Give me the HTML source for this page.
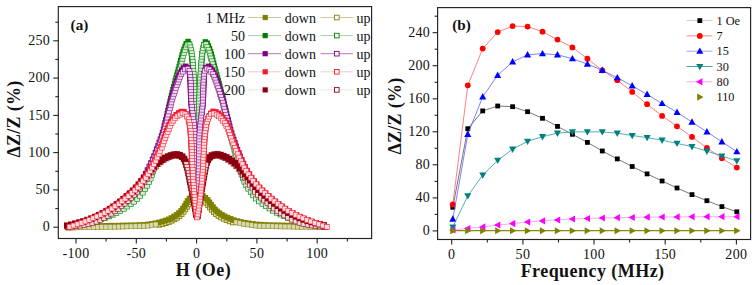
<!DOCTYPE html><html><head><meta charset="utf-8"><style>
html,body{margin:0;padding:0;background:#fff;}
body{width:755px;height:285px;overflow:hidden;}
svg{display:block;}
text{font-family:"Liberation Serif", serif;fill:#111;}
.tk{font-size:14px;letter-spacing:0.35px;}
.lg{font-size:14px;}
.lg2{font-size:12.3px;}
.ti{font-size:18px;font-weight:bold;letter-spacing:0.3px;}
.pl{font-size:15.2px;font-weight:bold;}
</style></head><body>
<svg width="755" height="285" viewBox="0 0 755 285">
<rect width="755" height="285" fill="#fff"/>
<svg x="58.3" y="6.6" width="313.3" height="231.9" viewBox="58.3 6.6 313.3 231.9" overflow="hidden">
<g fill="#e8e8c0" stroke="#808000" stroke-width="0.9"><rect x="156.7" y="222.3" width="4.9" height="4.9"/><rect x="160.1" y="221.5" width="4.9" height="4.9"/><rect x="163.3" y="220.6" width="4.9" height="4.9"/><rect x="166.4" y="219.5" width="4.9" height="4.9"/><rect x="169.2" y="218.2" width="4.9" height="4.9"/><rect x="171.9" y="216.8" width="4.9" height="4.9"/><rect x="174.5" y="215.3" width="4.9" height="4.9"/><rect x="176.9" y="213.5" width="4.9" height="4.9"/><rect x="179.1" y="211.5" width="4.9" height="4.9"/><rect x="181.1" y="209.2" width="4.9" height="4.9"/><rect x="182.8" y="206.8" width="4.9" height="4.9"/><rect x="184.5" y="204.3" width="4.9" height="4.9"/><rect x="186.1" y="201.8" width="4.9" height="4.9"/><rect x="188.0" y="199.5" width="4.9" height="4.9"/><rect x="190.3" y="197.5" width="4.9" height="4.9"/><rect x="193.0" y="196.3" width="4.9" height="4.9"/><rect x="196.0" y="196.1" width="4.9" height="4.9"/><rect x="198.8" y="197.0" width="4.9" height="4.9"/><rect x="201.5" y="198.5" width="4.9" height="4.9"/><rect x="203.8" y="200.4" width="4.9" height="4.9"/><rect x="205.8" y="202.6" width="4.9" height="4.9"/><rect x="207.6" y="205.0" width="4.9" height="4.9"/><rect x="209.5" y="207.3" width="4.9" height="4.9"/><rect x="211.5" y="209.5" width="4.9" height="4.9"/><rect x="213.7" y="211.6" width="4.9" height="4.9"/><rect x="216.1" y="213.4" width="4.9" height="4.9"/><rect x="218.7" y="214.9" width="4.9" height="4.9"/><rect x="221.4" y="216.3" width="4.9" height="4.9"/><rect x="224.2" y="217.6" width="4.9" height="4.9"/><rect x="227.3" y="218.8" width="4.9" height="4.9"/><rect x="230.5" y="219.9" width="4.9" height="4.9"/></g>
<g fill="#808000"><rect x="321.3" y="223.2" width="5.6" height="5.6"/><rect x="317.1" y="223.2" width="5.6" height="5.6"/><rect x="312.9" y="223.1" width="5.6" height="5.6"/><rect x="308.7" y="223.0" width="5.6" height="5.6"/><rect x="304.5" y="223.0" width="5.6" height="5.6"/><rect x="300.3" y="222.9" width="5.6" height="5.6"/><rect x="296.1" y="222.9" width="5.6" height="5.6"/><rect x="291.9" y="222.8" width="5.6" height="5.6"/><rect x="287.7" y="222.8" width="5.6" height="5.6"/><rect x="283.5" y="222.7" width="5.6" height="5.6"/><rect x="279.3" y="222.6" width="5.6" height="5.6"/><rect x="275.1" y="222.5" width="5.6" height="5.6"/><rect x="270.9" y="222.4" width="5.6" height="5.6"/><rect x="266.7" y="222.3" width="5.6" height="5.6"/><rect x="262.5" y="222.1" width="5.6" height="5.6"/><rect x="258.3" y="221.9" width="5.6" height="5.6"/><rect x="254.1" y="221.6" width="5.6" height="5.6"/><rect x="250.0" y="221.1" width="5.6" height="5.6"/><rect x="245.9" y="220.5" width="5.6" height="5.6"/><rect x="241.9" y="219.9" width="5.6" height="5.6"/><rect x="238.1" y="219.1" width="5.6" height="5.6"/><rect x="234.5" y="218.3" width="5.6" height="5.6"/><rect x="231.1" y="217.3" width="5.6" height="5.6"/><rect x="227.9" y="216.1" width="5.6" height="5.6"/><rect x="224.8" y="214.9" width="5.6" height="5.6"/><rect x="221.9" y="213.5" width="5.6" height="5.6"/><rect x="219.2" y="212.1" width="5.6" height="5.6"/><rect x="216.7" y="210.4" width="5.6" height="5.6"/><rect x="214.3" y="208.6" width="5.6" height="5.6"/><rect x="212.2" y="206.6" width="5.6" height="5.6"/><rect x="210.2" y="204.3" width="5.6" height="5.6"/><rect x="208.3" y="201.9" width="5.6" height="5.6"/><rect x="206.6" y="199.5" width="5.6" height="5.6"/><rect x="204.8" y="197.1" width="5.6" height="5.6"/><rect x="202.6" y="195.0" width="5.6" height="5.6"/><rect x="200.2" y="193.3" width="5.6" height="5.6"/><rect x="197.4" y="192.2" width="5.6" height="5.6"/><rect x="194.4" y="191.8" width="5.6" height="5.6"/><rect x="191.5" y="192.3" width="5.6" height="5.6"/><rect x="188.8" y="193.7" width="5.6" height="5.6"/><rect x="186.7" y="195.7" width="5.6" height="5.6"/><rect x="184.8" y="198.1" width="5.6" height="5.6"/><rect x="183.3" y="200.7" width="5.6" height="5.6"/><rect x="181.8" y="203.3" width="5.6" height="5.6"/><rect x="180.1" y="205.8" width="5.6" height="5.6"/><rect x="178.3" y="208.1" width="5.6" height="5.6"/><rect x="176.1" y="210.2" width="5.6" height="5.6"/><rect x="173.8" y="212.1" width="5.6" height="5.6"/><rect x="171.2" y="213.7" width="5.6" height="5.6"/><rect x="168.6" y="215.2" width="5.6" height="5.6"/><rect x="165.8" y="216.6" width="5.6" height="5.6"/><rect x="162.8" y="217.7" width="5.6" height="5.6"/><rect x="159.6" y="218.7" width="5.6" height="5.6"/><rect x="156.3" y="219.6" width="5.6" height="5.6"/><rect x="152.8" y="220.4" width="5.6" height="5.6"/><rect x="149.1" y="221.0" width="5.6" height="5.6"/><rect x="145.2" y="221.6" width="5.6" height="5.6"/><rect x="141.1" y="222.0" width="5.6" height="5.6"/><rect x="136.9" y="222.2" width="5.6" height="5.6"/><rect x="132.7" y="222.4" width="5.6" height="5.6"/><rect x="128.6" y="222.5" width="5.6" height="5.6"/><rect x="124.4" y="222.6" width="5.6" height="5.6"/><rect x="120.2" y="222.7" width="5.6" height="5.6"/><rect x="116.0" y="222.8" width="5.6" height="5.6"/><rect x="111.8" y="222.9" width="5.6" height="5.6"/><rect x="107.6" y="222.9" width="5.6" height="5.6"/><rect x="103.4" y="223.0" width="5.6" height="5.6"/><rect x="99.2" y="223.1" width="5.6" height="5.6"/><rect x="95.0" y="223.1" width="5.6" height="5.6"/><rect x="90.8" y="223.2" width="5.6" height="5.6"/><rect x="86.6" y="223.3" width="5.6" height="5.6"/><rect x="82.4" y="223.4" width="5.6" height="5.6"/><rect x="78.2" y="223.5" width="5.6" height="5.6"/><rect x="74.0" y="223.7" width="5.6" height="5.6"/><rect x="69.8" y="223.9" width="5.6" height="5.6"/><rect x="65.6" y="224.2" width="5.6" height="5.6"/></g>
<g fill="#d9d9b2" stroke="#808000" stroke-width="0.55"><rect x="66.0" y="225.5" width="4.9" height="4.9"/><rect x="70.2" y="225.2" width="4.9" height="4.9"/><rect x="74.4" y="225.0" width="4.9" height="4.9"/><rect x="78.6" y="224.8" width="4.9" height="4.9"/><rect x="82.8" y="224.7" width="4.9" height="4.9"/><rect x="87.0" y="224.7" width="4.9" height="4.9"/><rect x="91.2" y="224.6" width="4.9" height="4.9"/><rect x="95.4" y="224.5" width="4.9" height="4.9"/><rect x="99.6" y="224.4" width="4.9" height="4.9"/><rect x="103.8" y="224.4" width="4.9" height="4.9"/><rect x="108.0" y="224.3" width="4.9" height="4.9"/><rect x="112.2" y="224.3" width="4.9" height="4.9"/><rect x="116.4" y="224.2" width="4.9" height="4.9"/><rect x="120.6" y="224.1" width="4.9" height="4.9"/><rect x="124.8" y="224.0" width="4.9" height="4.9"/><rect x="129.0" y="223.9" width="4.9" height="4.9"/><rect x="133.1" y="223.8" width="4.9" height="4.9"/><rect x="137.3" y="223.6" width="4.9" height="4.9"/><rect x="141.5" y="223.4" width="4.9" height="4.9"/><rect x="145.6" y="223.2" width="4.9" height="4.9"/><rect x="149.5" y="222.6" width="4.9" height="4.9"/><rect x="153.2" y="222.0" width="4.9" height="4.9"/><rect x="233.9" y="219.9" width="4.9" height="4.9"/><rect x="237.5" y="220.7" width="4.9" height="4.9"/><rect x="241.3" y="221.4" width="4.9" height="4.9"/><rect x="245.2" y="222.0" width="4.9" height="4.9"/><rect x="249.3" y="222.6" width="4.9" height="4.9"/><rect x="253.4" y="223.1" width="4.9" height="4.9"/><rect x="257.6" y="223.4" width="4.9" height="4.9"/><rect x="261.8" y="223.5" width="4.9" height="4.9"/><rect x="266.0" y="223.7" width="4.9" height="4.9"/><rect x="270.2" y="223.8" width="4.9" height="4.9"/><rect x="274.4" y="223.9" width="4.9" height="4.9"/><rect x="278.6" y="224.0" width="4.9" height="4.9"/><rect x="282.8" y="224.1" width="4.9" height="4.9"/><rect x="287.0" y="224.1" width="4.9" height="4.9"/><rect x="291.2" y="224.2" width="4.9" height="4.9"/><rect x="295.4" y="224.3" width="4.9" height="4.9"/><rect x="299.6" y="224.3" width="4.9" height="4.9"/><rect x="303.8" y="224.3" width="4.9" height="4.9"/><rect x="308.0" y="224.4" width="4.9" height="4.9"/><rect x="312.2" y="224.5" width="4.9" height="4.9"/><rect x="316.4" y="224.5" width="4.9" height="4.9"/><rect x="320.6" y="224.6" width="4.9" height="4.9"/></g>
<g fill="#008000"><rect x="322.1" y="224.1" width="5.4" height="5.4"/><rect x="318.0" y="223.2" width="5.4" height="5.4"/><rect x="313.9" y="222.4" width="5.4" height="5.4"/><rect x="309.8" y="221.5" width="5.4" height="5.4"/><rect x="305.7" y="220.6" width="5.4" height="5.4"/><rect x="301.6" y="219.6" width="5.4" height="5.4"/><rect x="297.6" y="218.5" width="5.4" height="5.4"/><rect x="293.5" y="217.4" width="5.4" height="5.4"/><rect x="289.5" y="216.1" width="5.4" height="5.4"/><rect x="285.5" y="214.7" width="5.4" height="5.4"/><rect x="281.6" y="213.2" width="5.4" height="5.4"/><rect x="277.8" y="211.4" width="5.4" height="5.4"/><rect x="274.1" y="209.6" width="5.4" height="5.4"/><rect x="270.4" y="207.6" width="5.4" height="5.4"/><rect x="266.8" y="205.3" width="5.4" height="5.4"/><rect x="263.3" y="203.0" width="5.4" height="5.4"/><rect x="259.9" y="200.6" width="5.4" height="5.4"/><rect x="256.5" y="198.1" width="5.4" height="5.4"/><rect x="253.5" y="195.2" width="5.4" height="5.4"/><rect x="250.6" y="192.1" width="5.4" height="5.4"/><rect x="248.1" y="188.8" width="5.4" height="5.4"/><rect x="245.8" y="185.3" width="5.4" height="5.4"/><rect x="243.7" y="181.8" width="5.4" height="5.4"/><rect x="241.9" y="178.3" width="5.4" height="5.4"/><rect x="240.4" y="174.7" width="5.4" height="5.4"/><rect x="239.1" y="171.1" width="5.4" height="5.4"/><rect x="238.0" y="167.5" width="5.4" height="5.4"/><rect x="236.9" y="163.9" width="5.4" height="5.4"/><rect x="235.9" y="160.3" width="5.4" height="5.4"/><rect x="234.9" y="156.8" width="5.4" height="5.4"/><rect x="233.9" y="153.3" width="5.4" height="5.4"/><rect x="233.0" y="149.8" width="5.4" height="5.4"/><rect x="232.1" y="146.4" width="5.4" height="5.4"/><rect x="231.2" y="143.0" width="5.4" height="5.4"/><rect x="230.3" y="139.6" width="5.4" height="5.4"/><rect x="229.4" y="136.3" width="5.4" height="5.4"/><rect x="228.6" y="133.0" width="5.4" height="5.4"/><rect x="227.8" y="129.7" width="5.4" height="5.4"/><rect x="227.1" y="126.4" width="5.4" height="5.4"/><rect x="226.3" y="123.2" width="5.4" height="5.4"/><rect x="225.6" y="120.0" width="5.4" height="5.4"/><rect x="224.9" y="116.8" width="5.4" height="5.4"/><rect x="224.2" y="113.6" width="5.4" height="5.4"/><rect x="223.5" y="110.5" width="5.4" height="5.4"/><rect x="222.8" y="107.4" width="5.4" height="5.4"/><rect x="222.2" y="104.3" width="5.4" height="5.4"/><rect x="221.5" y="101.3" width="5.4" height="5.4"/><rect x="220.8" y="98.3" width="5.4" height="5.4"/><rect x="220.1" y="95.3" width="5.4" height="5.4"/><rect x="219.4" y="92.3" width="5.4" height="5.4"/><rect x="218.6" y="89.4" width="5.4" height="5.4"/><rect x="217.9" y="86.5" width="5.4" height="5.4"/><rect x="217.1" y="83.6" width="5.4" height="5.4"/><rect x="216.4" y="80.7" width="5.4" height="5.4"/><rect x="215.6" y="77.8" width="5.4" height="5.4"/><rect x="214.8" y="74.9" width="5.4" height="5.4"/><rect x="214.0" y="72.0" width="5.4" height="5.4"/><rect x="213.2" y="69.1" width="5.4" height="5.4"/><rect x="212.4" y="66.2" width="5.4" height="5.4"/><rect x="211.6" y="63.3" width="5.4" height="5.4"/><rect x="210.9" y="60.4" width="5.4" height="5.4"/><rect x="210.1" y="57.5" width="5.4" height="5.4"/><rect x="209.4" y="54.6" width="5.4" height="5.4"/><rect x="208.6" y="51.7" width="5.4" height="5.4"/><rect x="207.8" y="48.9" width="5.4" height="5.4"/><rect x="206.8" y="46.0" width="5.4" height="5.4"/><rect x="205.7" y="43.2" width="5.4" height="5.4"/><rect x="204.5" y="40.5" width="5.4" height="5.4"/><rect x="202.6" y="39.2" width="5.4" height="5.4"/><rect x="201.5" y="42.0" width="5.4" height="5.4"/><rect x="200.8" y="44.9" width="5.4" height="5.4"/><rect x="200.2" y="47.8" width="5.4" height="5.4"/><rect x="199.8" y="50.8" width="5.4" height="5.4"/><rect x="199.5" y="53.8" width="5.4" height="5.4"/><rect x="199.2" y="56.8" width="5.4" height="5.4"/><rect x="199.0" y="59.7" width="5.4" height="5.4"/><rect x="198.7" y="62.7" width="5.4" height="5.4"/><rect x="198.5" y="65.7" width="5.4" height="5.4"/><rect x="198.3" y="68.7" width="5.4" height="5.4"/><rect x="198.1" y="71.7" width="5.4" height="5.4"/><rect x="197.9" y="74.7" width="5.4" height="5.4"/><rect x="197.8" y="77.7" width="5.4" height="5.4"/><rect x="197.6" y="80.7" width="5.4" height="5.4"/><rect x="197.5" y="83.7" width="5.4" height="5.4"/><rect x="197.3" y="86.7" width="5.4" height="5.4"/><rect x="197.2" y="89.7" width="5.4" height="5.4"/><rect x="197.1" y="92.7" width="5.4" height="5.4"/><rect x="197.0" y="95.7" width="5.4" height="5.4"/><rect x="196.8" y="98.7" width="5.4" height="5.4"/><rect x="196.7" y="101.7" width="5.4" height="5.4"/><rect x="196.6" y="104.7" width="5.4" height="5.4"/><rect x="196.5" y="107.7" width="5.4" height="5.4"/><rect x="196.5" y="110.7" width="5.4" height="5.4"/><rect x="196.4" y="113.7" width="5.4" height="5.4"/><rect x="196.3" y="116.7" width="5.4" height="5.4"/><rect x="196.3" y="119.7" width="5.4" height="5.4"/><rect x="196.2" y="122.7" width="5.4" height="5.4"/><rect x="196.1" y="125.7" width="5.4" height="5.4"/><rect x="196.1" y="128.7" width="5.4" height="5.4"/><rect x="196.0" y="131.7" width="5.4" height="5.4"/><rect x="196.0" y="134.7" width="5.4" height="5.4"/><rect x="195.9" y="137.7" width="5.4" height="5.4"/><rect x="195.9" y="140.7" width="5.4" height="5.4"/><rect x="195.8" y="143.7" width="5.4" height="5.4"/><rect x="195.7" y="146.7" width="5.4" height="5.4"/><rect x="195.7" y="149.7" width="5.4" height="5.4"/><rect x="195.6" y="152.7" width="5.4" height="5.4"/><rect x="195.6" y="155.7" width="5.4" height="5.4"/><rect x="195.5" y="158.7" width="5.4" height="5.4"/><rect x="195.5" y="161.7" width="5.4" height="5.4"/><rect x="195.4" y="164.7" width="5.4" height="5.4"/><rect x="195.4" y="167.7" width="5.4" height="5.4"/><rect x="195.3" y="170.7" width="5.4" height="5.4"/><rect x="195.3" y="173.7" width="5.4" height="5.4"/><rect x="195.2" y="176.7" width="5.4" height="5.4"/><rect x="195.2" y="179.7" width="5.4" height="5.4"/><rect x="195.1" y="182.7" width="5.4" height="5.4"/><rect x="195.1" y="185.7" width="5.4" height="5.4"/><rect x="195.0" y="188.7" width="5.4" height="5.4"/><rect x="195.0" y="191.7" width="5.4" height="5.4"/><rect x="194.9" y="194.7" width="5.4" height="5.4"/><rect x="194.9" y="197.7" width="5.4" height="5.4"/><rect x="194.8" y="200.7" width="5.4" height="5.4"/><rect x="194.7" y="203.7" width="5.4" height="5.4"/><rect x="194.7" y="206.7" width="5.4" height="5.4"/><rect x="194.2" y="209.0" width="5.4" height="5.4"/><rect x="194.1" y="206.0" width="5.4" height="5.4"/><rect x="194.0" y="203.0" width="5.4" height="5.4"/><rect x="193.9" y="200.0" width="5.4" height="5.4"/><rect x="193.9" y="197.0" width="5.4" height="5.4"/><rect x="193.8" y="194.0" width="5.4" height="5.4"/><rect x="193.7" y="191.0" width="5.4" height="5.4"/><rect x="193.7" y="188.0" width="5.4" height="5.4"/><rect x="193.6" y="185.0" width="5.4" height="5.4"/><rect x="193.6" y="182.0" width="5.4" height="5.4"/><rect x="193.5" y="179.0" width="5.4" height="5.4"/><rect x="193.5" y="176.0" width="5.4" height="5.4"/><rect x="193.4" y="173.0" width="5.4" height="5.4"/><rect x="193.4" y="170.0" width="5.4" height="5.4"/><rect x="193.3" y="167.0" width="5.4" height="5.4"/><rect x="193.3" y="164.0" width="5.4" height="5.4"/><rect x="193.2" y="161.0" width="5.4" height="5.4"/><rect x="193.2" y="158.0" width="5.4" height="5.4"/><rect x="193.1" y="155.0" width="5.4" height="5.4"/><rect x="193.1" y="152.0" width="5.4" height="5.4"/><rect x="193.0" y="149.0" width="5.4" height="5.4"/><rect x="193.0" y="146.0" width="5.4" height="5.4"/><rect x="192.9" y="143.0" width="5.4" height="5.4"/><rect x="192.8" y="140.1" width="5.4" height="5.4"/><rect x="192.8" y="137.1" width="5.4" height="5.4"/><rect x="192.7" y="134.1" width="5.4" height="5.4"/><rect x="192.7" y="131.1" width="5.4" height="5.4"/><rect x="192.6" y="128.1" width="5.4" height="5.4"/><rect x="192.5" y="125.1" width="5.4" height="5.4"/><rect x="192.5" y="122.1" width="5.4" height="5.4"/><rect x="192.4" y="119.1" width="5.4" height="5.4"/><rect x="192.3" y="116.1" width="5.4" height="5.4"/><rect x="192.3" y="113.1" width="5.4" height="5.4"/><rect x="192.2" y="110.1" width="5.4" height="5.4"/><rect x="192.1" y="107.1" width="5.4" height="5.4"/><rect x="192.0" y="104.1" width="5.4" height="5.4"/><rect x="191.9" y="101.1" width="5.4" height="5.4"/><rect x="191.8" y="98.1" width="5.4" height="5.4"/><rect x="191.7" y="95.1" width="5.4" height="5.4"/><rect x="191.5" y="92.1" width="5.4" height="5.4"/><rect x="191.4" y="89.1" width="5.4" height="5.4"/><rect x="191.3" y="86.1" width="5.4" height="5.4"/><rect x="191.1" y="83.1" width="5.4" height="5.4"/><rect x="191.0" y="80.1" width="5.4" height="5.4"/><rect x="190.8" y="77.1" width="5.4" height="5.4"/><rect x="190.6" y="74.1" width="5.4" height="5.4"/><rect x="190.4" y="71.1" width="5.4" height="5.4"/><rect x="190.2" y="68.1" width="5.4" height="5.4"/><rect x="190.0" y="65.1" width="5.4" height="5.4"/><rect x="189.8" y="62.1" width="5.4" height="5.4"/><rect x="189.5" y="59.1" width="5.4" height="5.4"/><rect x="189.2" y="56.1" width="5.4" height="5.4"/><rect x="188.9" y="53.2" width="5.4" height="5.4"/><rect x="188.6" y="50.2" width="5.4" height="5.4"/><rect x="188.2" y="47.2" width="5.4" height="5.4"/><rect x="187.5" y="44.3" width="5.4" height="5.4"/><rect x="186.7" y="41.4" width="5.4" height="5.4"/><rect x="185.4" y="38.8" width="5.4" height="5.4"/><rect x="183.5" y="40.9" width="5.4" height="5.4"/><rect x="182.4" y="43.7" width="5.4" height="5.4"/><rect x="181.3" y="46.5" width="5.4" height="5.4"/><rect x="180.4" y="49.3" width="5.4" height="5.4"/><rect x="179.5" y="52.2" width="5.4" height="5.4"/><rect x="178.8" y="55.1" width="5.4" height="5.4"/><rect x="178.0" y="58.0" width="5.4" height="5.4"/><rect x="177.3" y="60.9" width="5.4" height="5.4"/><rect x="176.5" y="63.8" width="5.4" height="5.4"/><rect x="175.7" y="66.7" width="5.4" height="5.4"/><rect x="174.9" y="69.6" width="5.4" height="5.4"/><rect x="174.1" y="72.5" width="5.4" height="5.4"/><rect x="173.3" y="75.4" width="5.4" height="5.4"/><rect x="172.5" y="78.3" width="5.4" height="5.4"/><rect x="171.8" y="81.2" width="5.4" height="5.4"/><rect x="171.0" y="84.1" width="5.4" height="5.4"/><rect x="170.2" y="87.0" width="5.4" height="5.4"/><rect x="169.5" y="89.9" width="5.4" height="5.4"/><rect x="168.8" y="92.8" width="5.4" height="5.4"/><rect x="168.1" y="95.8" width="5.4" height="5.4"/><rect x="167.4" y="98.8" width="5.4" height="5.4"/><rect x="166.7" y="101.8" width="5.4" height="5.4"/><rect x="166.0" y="104.8" width="5.4" height="5.4"/><rect x="165.3" y="107.9" width="5.4" height="5.4"/><rect x="164.6" y="111.0" width="5.4" height="5.4"/><rect x="163.9" y="114.2" width="5.4" height="5.4"/><rect x="163.2" y="117.3" width="5.4" height="5.4"/><rect x="162.5" y="120.5" width="5.4" height="5.4"/><rect x="161.8" y="123.7" width="5.4" height="5.4"/><rect x="161.1" y="127.0" width="5.4" height="5.4"/><rect x="160.3" y="130.2" width="5.4" height="5.4"/><rect x="159.5" y="133.5" width="5.4" height="5.4"/><rect x="158.7" y="136.8" width="5.4" height="5.4"/><rect x="157.9" y="140.2" width="5.4" height="5.4"/><rect x="156.9" y="143.5" width="5.4" height="5.4"/><rect x="156.0" y="146.9" width="5.4" height="5.4"/><rect x="155.1" y="150.4" width="5.4" height="5.4"/><rect x="154.2" y="153.9" width="5.4" height="5.4"/><rect x="153.2" y="157.4" width="5.4" height="5.4"/><rect x="152.2" y="160.9" width="5.4" height="5.4"/><rect x="151.2" y="164.5" width="5.4" height="5.4"/><rect x="150.1" y="168.1" width="5.4" height="5.4"/><rect x="148.9" y="171.7" width="5.4" height="5.4"/><rect x="147.6" y="175.3" width="5.4" height="5.4"/><rect x="146.1" y="178.9" width="5.4" height="5.4"/><rect x="144.2" y="182.4" width="5.4" height="5.4"/><rect x="142.1" y="185.9" width="5.4" height="5.4"/><rect x="139.8" y="189.3" width="5.4" height="5.4"/><rect x="137.2" y="192.6" width="5.4" height="5.4"/><rect x="134.3" y="195.7" width="5.4" height="5.4"/><rect x="131.2" y="198.5" width="5.4" height="5.4"/><rect x="127.8" y="201.0" width="5.4" height="5.4"/><rect x="124.4" y="203.4" width="5.4" height="5.4"/><rect x="120.9" y="205.7" width="5.4" height="5.4"/><rect x="117.3" y="207.9" width="5.4" height="5.4"/><rect x="113.6" y="209.9" width="5.4" height="5.4"/><rect x="109.8" y="211.7" width="5.4" height="5.4"/><rect x="106.0" y="213.4" width="5.4" height="5.4"/><rect x="102.1" y="215.0" width="5.4" height="5.4"/><rect x="98.1" y="216.3" width="5.4" height="5.4"/><rect x="94.1" y="217.6" width="5.4" height="5.4"/><rect x="90.0" y="218.7" width="5.4" height="5.4"/><rect x="86.0" y="219.8" width="5.4" height="5.4"/><rect x="81.9" y="220.7" width="5.4" height="5.4"/><rect x="77.8" y="221.6" width="5.4" height="5.4"/><rect x="73.7" y="222.5" width="5.4" height="5.4"/><rect x="69.6" y="223.4" width="5.4" height="5.4"/><rect x="65.4" y="224.2" width="5.4" height="5.4"/></g>
<g fill="#d9ecd9" stroke="#008000" stroke-width="0.55"><rect x="65.7" y="224.5" width="4.9" height="4.9"/><rect x="69.9" y="223.7" width="4.9" height="4.9"/><rect x="74.0" y="222.9" width="4.9" height="4.9"/><rect x="78.1" y="222.0" width="4.9" height="4.9"/><rect x="82.2" y="221.2" width="4.9" height="4.9"/><rect x="86.3" y="220.2" width="4.9" height="4.9"/><rect x="90.4" y="219.2" width="4.9" height="4.9"/><rect x="94.4" y="218.1" width="4.9" height="4.9"/><rect x="98.4" y="216.9" width="4.9" height="4.9"/><rect x="102.4" y="215.5" width="4.9" height="4.9"/><rect x="106.3" y="214.0" width="4.9" height="4.9"/><rect x="110.2" y="212.3" width="4.9" height="4.9"/><rect x="114.0" y="210.5" width="4.9" height="4.9"/><rect x="117.7" y="208.6" width="4.9" height="4.9"/><rect x="121.3" y="206.4" width="4.9" height="4.9"/><rect x="124.8" y="204.1" width="4.9" height="4.9"/><rect x="128.3" y="201.8" width="4.9" height="4.9"/><rect x="131.7" y="199.3" width="4.9" height="4.9"/><rect x="134.8" y="196.5" width="4.9" height="4.9"/><rect x="137.7" y="193.4" width="4.9" height="4.9"/><rect x="140.3" y="190.2" width="4.9" height="4.9"/><rect x="142.7" y="186.8" width="4.9" height="4.9"/><rect x="144.8" y="183.3" width="4.9" height="4.9"/><rect x="146.7" y="179.8" width="4.9" height="4.9"/><rect x="148.2" y="176.2" width="4.9" height="4.9"/><rect x="149.6" y="172.6" width="4.9" height="4.9"/><rect x="150.8" y="169.0" width="4.9" height="4.9"/><rect x="151.9" y="165.4" width="4.9" height="4.9"/><rect x="152.9" y="161.8" width="4.9" height="4.9"/><rect x="153.9" y="158.3" width="4.9" height="4.9"/><rect x="154.9" y="154.8" width="4.9" height="4.9"/><rect x="155.9" y="151.4" width="4.9" height="4.9"/><rect x="156.8" y="147.9" width="4.9" height="4.9"/><rect x="157.7" y="144.5" width="4.9" height="4.9"/><rect x="158.7" y="141.2" width="4.9" height="4.9"/><rect x="159.5" y="137.8" width="4.9" height="4.9"/><rect x="160.4" y="134.5" width="4.9" height="4.9"/><rect x="161.2" y="131.3" width="4.9" height="4.9"/><rect x="161.9" y="128.0" width="4.9" height="4.9"/><rect x="162.7" y="124.8" width="4.9" height="4.9"/><rect x="163.4" y="121.6" width="4.9" height="4.9"/><rect x="164.1" y="118.4" width="4.9" height="4.9"/><rect x="164.8" y="115.2" width="4.9" height="4.9"/><rect x="165.5" y="112.1" width="4.9" height="4.9"/><rect x="166.2" y="109.0" width="4.9" height="4.9"/><rect x="166.9" y="105.9" width="4.9" height="4.9"/><rect x="167.7" y="102.9" width="4.9" height="4.9"/><rect x="168.4" y="99.9" width="4.9" height="4.9"/><rect x="169.1" y="96.9" width="4.9" height="4.9"/><rect x="169.8" y="94.0" width="4.9" height="4.9"/><rect x="170.5" y="91.1" width="4.9" height="4.9"/><rect x="171.3" y="88.2" width="4.9" height="4.9"/><rect x="172.1" y="85.3" width="4.9" height="4.9"/><rect x="172.9" y="82.4" width="4.9" height="4.9"/><rect x="173.6" y="79.5" width="4.9" height="4.9"/><rect x="174.4" y="76.6" width="4.9" height="4.9"/><rect x="175.2" y="73.7" width="4.9" height="4.9"/><rect x="176.1" y="70.8" width="4.9" height="4.9"/><rect x="176.9" y="67.9" width="4.9" height="4.9"/><rect x="177.7" y="65.0" width="4.9" height="4.9"/><rect x="178.5" y="62.1" width="4.9" height="4.9"/><rect x="179.2" y="59.2" width="4.9" height="4.9"/><rect x="180.0" y="56.3" width="4.9" height="4.9"/><rect x="180.8" y="53.4" width="4.9" height="4.9"/><rect x="181.6" y="50.5" width="4.9" height="4.9"/><rect x="182.6" y="47.7" width="4.9" height="4.9"/><rect x="183.8" y="44.9" width="4.9" height="4.9"/><rect x="185.0" y="42.2" width="4.9" height="4.9"/><rect x="187.1" y="42.1" width="4.9" height="4.9"/><rect x="188.0" y="44.9" width="4.9" height="4.9"/><rect x="188.8" y="47.8" width="4.9" height="4.9"/><rect x="189.3" y="50.8" width="4.9" height="4.9"/><rect x="189.7" y="53.7" width="4.9" height="4.9"/><rect x="190.0" y="56.7" width="4.9" height="4.9"/><rect x="190.3" y="59.7" width="4.9" height="4.9"/><rect x="190.6" y="62.7" width="4.9" height="4.9"/><rect x="190.8" y="65.7" width="4.9" height="4.9"/><rect x="191.0" y="68.7" width="4.9" height="4.9"/><rect x="191.2" y="71.7" width="4.9" height="4.9"/><rect x="191.4" y="74.7" width="4.9" height="4.9"/><rect x="191.6" y="77.7" width="4.9" height="4.9"/><rect x="191.8" y="80.7" width="4.9" height="4.9"/><rect x="191.9" y="83.7" width="4.9" height="4.9"/><rect x="192.1" y="86.6" width="4.9" height="4.9"/><rect x="192.2" y="89.6" width="4.9" height="4.9"/><rect x="192.3" y="92.6" width="4.9" height="4.9"/><rect x="192.4" y="95.6" width="4.9" height="4.9"/><rect x="192.6" y="98.6" width="4.9" height="4.9"/><rect x="192.7" y="101.6" width="4.9" height="4.9"/><rect x="192.8" y="104.6" width="4.9" height="4.9"/><rect x="192.9" y="107.6" width="4.9" height="4.9"/><rect x="192.9" y="110.6" width="4.9" height="4.9"/><rect x="193.0" y="113.6" width="4.9" height="4.9"/><rect x="193.1" y="116.6" width="4.9" height="4.9"/><rect x="193.1" y="119.6" width="4.9" height="4.9"/><rect x="193.2" y="122.6" width="4.9" height="4.9"/><rect x="193.2" y="125.6" width="4.9" height="4.9"/><rect x="193.3" y="128.6" width="4.9" height="4.9"/><rect x="193.3" y="131.6" width="4.9" height="4.9"/><rect x="193.4" y="134.6" width="4.9" height="4.9"/><rect x="193.5" y="137.6" width="4.9" height="4.9"/><rect x="193.5" y="140.6" width="4.9" height="4.9"/><rect x="193.6" y="143.6" width="4.9" height="4.9"/><rect x="193.6" y="146.6" width="4.9" height="4.9"/><rect x="193.7" y="149.6" width="4.9" height="4.9"/><rect x="193.7" y="152.6" width="4.9" height="4.9"/><rect x="193.8" y="155.6" width="4.9" height="4.9"/><rect x="193.8" y="158.6" width="4.9" height="4.9"/><rect x="193.8" y="161.6" width="4.9" height="4.9"/><rect x="193.9" y="164.6" width="4.9" height="4.9"/><rect x="193.9" y="167.6" width="4.9" height="4.9"/><rect x="194.0" y="170.6" width="4.9" height="4.9"/><rect x="194.0" y="173.6" width="4.9" height="4.9"/><rect x="194.0" y="176.6" width="4.9" height="4.9"/><rect x="194.1" y="179.6" width="4.9" height="4.9"/><rect x="194.1" y="182.6" width="4.9" height="4.9"/><rect x="194.1" y="185.6" width="4.9" height="4.9"/><rect x="194.2" y="188.6" width="4.9" height="4.9"/><rect x="194.2" y="191.6" width="4.9" height="4.9"/><rect x="194.3" y="194.6" width="4.9" height="4.9"/><rect x="194.3" y="197.6" width="4.9" height="4.9"/><rect x="194.4" y="200.6" width="4.9" height="4.9"/><rect x="194.4" y="203.6" width="4.9" height="4.9"/><rect x="194.5" y="206.6" width="4.9" height="4.9"/><rect x="194.6" y="209.6" width="4.9" height="4.9"/><rect x="194.8" y="207.1" width="4.9" height="4.9"/><rect x="194.9" y="204.1" width="4.9" height="4.9"/><rect x="194.9" y="201.1" width="4.9" height="4.9"/><rect x="195.0" y="198.1" width="4.9" height="4.9"/><rect x="195.0" y="195.1" width="4.9" height="4.9"/><rect x="195.1" y="192.1" width="4.9" height="4.9"/><rect x="195.1" y="189.1" width="4.9" height="4.9"/><rect x="195.1" y="186.1" width="4.9" height="4.9"/><rect x="195.2" y="183.1" width="4.9" height="4.9"/><rect x="195.2" y="180.1" width="4.9" height="4.9"/><rect x="195.2" y="177.1" width="4.9" height="4.9"/><rect x="195.3" y="174.1" width="4.9" height="4.9"/><rect x="195.3" y="171.1" width="4.9" height="4.9"/><rect x="195.4" y="168.1" width="4.9" height="4.9"/><rect x="195.4" y="165.1" width="4.9" height="4.9"/><rect x="195.4" y="162.1" width="4.9" height="4.9"/><rect x="195.5" y="159.1" width="4.9" height="4.9"/><rect x="195.5" y="156.1" width="4.9" height="4.9"/><rect x="195.6" y="153.1" width="4.9" height="4.9"/><rect x="195.6" y="150.1" width="4.9" height="4.9"/><rect x="195.6" y="147.1" width="4.9" height="4.9"/><rect x="195.7" y="144.1" width="4.9" height="4.9"/><rect x="195.7" y="141.1" width="4.9" height="4.9"/><rect x="195.8" y="138.1" width="4.9" height="4.9"/><rect x="195.8" y="135.1" width="4.9" height="4.9"/><rect x="195.9" y="132.1" width="4.9" height="4.9"/><rect x="195.9" y="129.1" width="4.9" height="4.9"/><rect x="196.0" y="126.1" width="4.9" height="4.9"/><rect x="196.0" y="123.1" width="4.9" height="4.9"/><rect x="196.1" y="120.1" width="4.9" height="4.9"/><rect x="196.1" y="117.1" width="4.9" height="4.9"/><rect x="196.2" y="114.1" width="4.9" height="4.9"/><rect x="196.3" y="111.1" width="4.9" height="4.9"/><rect x="196.3" y="108.1" width="4.9" height="4.9"/><rect x="196.4" y="105.1" width="4.9" height="4.9"/><rect x="196.5" y="102.1" width="4.9" height="4.9"/><rect x="196.6" y="99.1" width="4.9" height="4.9"/><rect x="196.7" y="96.1" width="4.9" height="4.9"/><rect x="196.9" y="93.1" width="4.9" height="4.9"/><rect x="197.0" y="90.1" width="4.9" height="4.9"/><rect x="197.1" y="87.2" width="4.9" height="4.9"/><rect x="197.2" y="84.2" width="4.9" height="4.9"/><rect x="197.4" y="81.2" width="4.9" height="4.9"/><rect x="197.5" y="78.2" width="4.9" height="4.9"/><rect x="197.7" y="75.2" width="4.9" height="4.9"/><rect x="197.9" y="72.2" width="4.9" height="4.9"/><rect x="198.1" y="69.2" width="4.9" height="4.9"/><rect x="198.3" y="66.2" width="4.9" height="4.9"/><rect x="198.5" y="63.2" width="4.9" height="4.9"/><rect x="198.8" y="60.2" width="4.9" height="4.9"/><rect x="199.0" y="57.2" width="4.9" height="4.9"/><rect x="199.3" y="54.2" width="4.9" height="4.9"/><rect x="199.7" y="51.3" width="4.9" height="4.9"/><rect x="200.1" y="48.3" width="4.9" height="4.9"/><rect x="200.8" y="45.4" width="4.9" height="4.9"/><rect x="201.7" y="42.5" width="4.9" height="4.9"/><rect x="203.6" y="41.9" width="4.9" height="4.9"/><rect x="204.9" y="44.6" width="4.9" height="4.9"/><rect x="206.1" y="47.4" width="4.9" height="4.9"/><rect x="207.1" y="50.2" width="4.9" height="4.9"/><rect x="207.9" y="53.1" width="4.9" height="4.9"/><rect x="208.7" y="56.0" width="4.9" height="4.9"/><rect x="209.5" y="58.9" width="4.9" height="4.9"/><rect x="210.2" y="61.8" width="4.9" height="4.9"/><rect x="211.0" y="64.7" width="4.9" height="4.9"/><rect x="211.8" y="67.5" width="4.9" height="4.9"/><rect x="212.7" y="70.4" width="4.9" height="4.9"/><rect x="213.5" y="73.3" width="4.9" height="4.9"/><rect x="214.3" y="76.2" width="4.9" height="4.9"/><rect x="215.1" y="79.1" width="4.9" height="4.9"/><rect x="215.9" y="82.0" width="4.9" height="4.9"/><rect x="216.6" y="84.9" width="4.9" height="4.9"/><rect x="217.4" y="87.8" width="4.9" height="4.9"/><rect x="218.2" y="90.7" width="4.9" height="4.9"/><rect x="218.9" y="93.6" width="4.9" height="4.9"/><rect x="219.6" y="96.5" width="4.9" height="4.9"/><rect x="220.4" y="99.5" width="4.9" height="4.9"/><rect x="221.1" y="102.5" width="4.9" height="4.9"/><rect x="221.8" y="105.6" width="4.9" height="4.9"/><rect x="222.5" y="108.6" width="4.9" height="4.9"/><rect x="223.2" y="111.7" width="4.9" height="4.9"/><rect x="223.9" y="114.8" width="4.9" height="4.9"/><rect x="224.6" y="118.0" width="4.9" height="4.9"/><rect x="225.3" y="121.2" width="4.9" height="4.9"/><rect x="226.0" y="124.4" width="4.9" height="4.9"/><rect x="226.8" y="127.6" width="4.9" height="4.9"/><rect x="227.6" y="130.8" width="4.9" height="4.9"/><rect x="228.3" y="134.1" width="4.9" height="4.9"/><rect x="229.2" y="137.4" width="4.9" height="4.9"/><rect x="230.0" y="140.8" width="4.9" height="4.9"/><rect x="231.0" y="144.1" width="4.9" height="4.9"/><rect x="231.9" y="147.5" width="4.9" height="4.9"/><rect x="232.8" y="150.9" width="4.9" height="4.9"/><rect x="233.8" y="154.4" width="4.9" height="4.9"/><rect x="234.8" y="157.9" width="4.9" height="4.9"/><rect x="235.8" y="161.4" width="4.9" height="4.9"/><rect x="236.8" y="165.0" width="4.9" height="4.9"/><rect x="237.9" y="168.5" width="4.9" height="4.9"/><rect x="239.1" y="172.1" width="4.9" height="4.9"/><rect x="240.4" y="175.8" width="4.9" height="4.9"/><rect x="241.9" y="179.3" width="4.9" height="4.9"/><rect x="243.8" y="182.9" width="4.9" height="4.9"/><rect x="245.8" y="186.3" width="4.9" height="4.9"/><rect x="248.2" y="189.7" width="4.9" height="4.9"/><rect x="250.8" y="193.0" width="4.9" height="4.9"/><rect x="253.6" y="196.1" width="4.9" height="4.9"/><rect x="256.7" y="199.0" width="4.9" height="4.9"/><rect x="260.1" y="201.5" width="4.9" height="4.9"/><rect x="263.6" y="203.8" width="4.9" height="4.9"/><rect x="267.1" y="206.1" width="4.9" height="4.9"/><rect x="270.7" y="208.3" width="4.9" height="4.9"/><rect x="274.4" y="210.3" width="4.9" height="4.9"/><rect x="278.1" y="212.1" width="4.9" height="4.9"/><rect x="282.0" y="213.8" width="4.9" height="4.9"/><rect x="285.9" y="215.3" width="4.9" height="4.9"/><rect x="289.9" y="216.7" width="4.9" height="4.9"/><rect x="293.9" y="217.9" width="4.9" height="4.9"/><rect x="297.9" y="219.0" width="4.9" height="4.9"/><rect x="302.0" y="220.1" width="4.9" height="4.9"/><rect x="306.1" y="221.0" width="4.9" height="4.9"/><rect x="310.2" y="221.9" width="4.9" height="4.9"/><rect x="314.3" y="222.8" width="4.9" height="4.9"/><rect x="318.4" y="223.6" width="4.9" height="4.9"/><rect x="322.6" y="224.4" width="4.9" height="4.9"/></g>
<g fill="#800080"><rect x="323.5" y="224.2" width="5.4" height="5.4"/><rect x="319.5" y="223.1" width="5.4" height="5.4"/><rect x="315.4" y="221.9" width="5.4" height="5.4"/><rect x="311.4" y="220.7" width="5.4" height="5.4"/><rect x="307.4" y="219.5" width="5.4" height="5.4"/><rect x="303.4" y="218.1" width="5.4" height="5.4"/><rect x="299.5" y="216.5" width="5.4" height="5.4"/><rect x="295.7" y="214.8" width="5.4" height="5.4"/><rect x="292.0" y="212.9" width="5.4" height="5.4"/><rect x="288.3" y="210.9" width="5.4" height="5.4"/><rect x="284.6" y="208.8" width="5.4" height="5.4"/><rect x="281.1" y="206.6" width="5.4" height="5.4"/><rect x="277.6" y="204.2" width="5.4" height="5.4"/><rect x="274.2" y="201.8" width="5.4" height="5.4"/><rect x="270.9" y="199.2" width="5.4" height="5.4"/><rect x="267.7" y="196.5" width="5.4" height="5.4"/><rect x="264.6" y="193.6" width="5.4" height="5.4"/><rect x="261.4" y="190.9" width="5.4" height="5.4"/><rect x="258.2" y="188.2" width="5.4" height="5.4"/><rect x="255.2" y="185.3" width="5.4" height="5.4"/><rect x="252.6" y="182.0" width="5.4" height="5.4"/><rect x="250.2" y="178.5" width="5.4" height="5.4"/><rect x="248.1" y="174.9" width="5.4" height="5.4"/><rect x="246.0" y="171.3" width="5.4" height="5.4"/><rect x="244.2" y="167.7" width="5.4" height="5.4"/><rect x="242.3" y="164.2" width="5.4" height="5.4"/><rect x="240.7" y="160.7" width="5.4" height="5.4"/><rect x="239.1" y="157.2" width="5.4" height="5.4"/><rect x="237.6" y="153.7" width="5.4" height="5.4"/><rect x="236.2" y="150.3" width="5.4" height="5.4"/><rect x="234.8" y="146.9" width="5.4" height="5.4"/><rect x="233.5" y="143.5" width="5.4" height="5.4"/><rect x="232.3" y="140.1" width="5.4" height="5.4"/><rect x="231.1" y="136.8" width="5.4" height="5.4"/><rect x="230.0" y="133.6" width="5.4" height="5.4"/><rect x="229.0" y="130.3" width="5.4" height="5.4"/><rect x="228.0" y="127.1" width="5.4" height="5.4"/><rect x="227.1" y="123.8" width="5.4" height="5.4"/><rect x="226.3" y="120.6" width="5.4" height="5.4"/><rect x="225.5" y="117.5" width="5.4" height="5.4"/><rect x="224.7" y="114.3" width="5.4" height="5.4"/><rect x="223.9" y="111.2" width="5.4" height="5.4"/><rect x="223.2" y="108.1" width="5.4" height="5.4"/><rect x="222.4" y="105.1" width="5.4" height="5.4"/><rect x="221.6" y="102.0" width="5.4" height="5.4"/><rect x="220.9" y="99.0" width="5.4" height="5.4"/><rect x="220.1" y="96.1" width="5.4" height="5.4"/><rect x="219.2" y="93.2" width="5.4" height="5.4"/><rect x="218.4" y="90.3" width="5.4" height="5.4"/><rect x="217.4" y="87.5" width="5.4" height="5.4"/><rect x="216.5" y="84.6" width="5.4" height="5.4"/><rect x="215.6" y="81.7" width="5.4" height="5.4"/><rect x="214.7" y="78.9" width="5.4" height="5.4"/><rect x="213.7" y="76.1" width="5.4" height="5.4"/><rect x="212.6" y="73.3" width="5.4" height="5.4"/><rect x="211.4" y="70.5" width="5.4" height="5.4"/><rect x="209.9" y="67.9" width="5.4" height="5.4"/><rect x="208.1" y="65.5" width="5.4" height="5.4"/><rect x="205.8" y="63.6" width="5.4" height="5.4"/><rect x="203.3" y="64.9" width="5.4" height="5.4"/><rect x="202.2" y="67.7" width="5.4" height="5.4"/><rect x="201.8" y="70.7" width="5.4" height="5.4"/><rect x="201.6" y="73.7" width="5.4" height="5.4"/><rect x="201.4" y="76.7" width="5.4" height="5.4"/><rect x="201.3" y="79.7" width="5.4" height="5.4"/><rect x="201.1" y="82.7" width="5.4" height="5.4"/><rect x="201.0" y="85.7" width="5.4" height="5.4"/><rect x="200.9" y="88.7" width="5.4" height="5.4"/><rect x="200.8" y="91.7" width="5.4" height="5.4"/><rect x="200.7" y="94.7" width="5.4" height="5.4"/><rect x="200.6" y="97.7" width="5.4" height="5.4"/><rect x="200.4" y="100.7" width="5.4" height="5.4"/><rect x="200.1" y="103.7" width="5.4" height="5.4"/><rect x="199.7" y="106.6" width="5.4" height="5.4"/><rect x="199.3" y="109.6" width="5.4" height="5.4"/><rect x="198.9" y="112.6" width="5.4" height="5.4"/><rect x="198.6" y="115.6" width="5.4" height="5.4"/><rect x="198.2" y="118.5" width="5.4" height="5.4"/><rect x="197.9" y="121.5" width="5.4" height="5.4"/><rect x="197.6" y="124.5" width="5.4" height="5.4"/><rect x="197.4" y="127.5" width="5.4" height="5.4"/><rect x="197.2" y="130.5" width="5.4" height="5.4"/><rect x="197.1" y="133.5" width="5.4" height="5.4"/><rect x="197.0" y="136.5" width="5.4" height="5.4"/><rect x="196.9" y="139.5" width="5.4" height="5.4"/><rect x="196.8" y="142.5" width="5.4" height="5.4"/><rect x="196.8" y="145.5" width="5.4" height="5.4"/><rect x="196.7" y="148.5" width="5.4" height="5.4"/><rect x="196.6" y="151.5" width="5.4" height="5.4"/><rect x="196.6" y="154.5" width="5.4" height="5.4"/><rect x="196.5" y="157.5" width="5.4" height="5.4"/><rect x="196.4" y="160.5" width="5.4" height="5.4"/><rect x="196.4" y="163.5" width="5.4" height="5.4"/><rect x="196.3" y="166.5" width="5.4" height="5.4"/><rect x="196.2" y="169.5" width="5.4" height="5.4"/><rect x="196.1" y="172.5" width="5.4" height="5.4"/><rect x="196.1" y="175.5" width="5.4" height="5.4"/><rect x="196.0" y="178.5" width="5.4" height="5.4"/><rect x="195.9" y="181.5" width="5.4" height="5.4"/><rect x="195.8" y="184.5" width="5.4" height="5.4"/><rect x="195.7" y="187.5" width="5.4" height="5.4"/><rect x="195.6" y="190.5" width="5.4" height="5.4"/><rect x="195.5" y="193.5" width="5.4" height="5.4"/><rect x="195.4" y="196.5" width="5.4" height="5.4"/><rect x="195.3" y="199.5" width="5.4" height="5.4"/><rect x="195.2" y="202.5" width="5.4" height="5.4"/><rect x="195.0" y="205.5" width="5.4" height="5.4"/><rect x="194.9" y="208.5" width="5.4" height="5.4"/><rect x="194.7" y="211.5" width="5.4" height="5.4"/><rect x="194.1" y="211.8" width="5.4" height="5.4"/><rect x="193.9" y="208.8" width="5.4" height="5.4"/><rect x="193.7" y="205.8" width="5.4" height="5.4"/><rect x="193.6" y="202.8" width="5.4" height="5.4"/><rect x="193.5" y="199.8" width="5.4" height="5.4"/><rect x="193.4" y="196.8" width="5.4" height="5.4"/><rect x="193.3" y="193.8" width="5.4" height="5.4"/><rect x="193.2" y="190.8" width="5.4" height="5.4"/><rect x="193.1" y="187.8" width="5.4" height="5.4"/><rect x="193.0" y="184.8" width="5.4" height="5.4"/><rect x="192.9" y="181.8" width="5.4" height="5.4"/><rect x="192.8" y="178.8" width="5.4" height="5.4"/><rect x="192.7" y="175.8" width="5.4" height="5.4"/><rect x="192.6" y="172.8" width="5.4" height="5.4"/><rect x="192.5" y="169.8" width="5.4" height="5.4"/><rect x="192.5" y="166.8" width="5.4" height="5.4"/><rect x="192.4" y="163.8" width="5.4" height="5.4"/><rect x="192.3" y="160.8" width="5.4" height="5.4"/><rect x="192.3" y="157.8" width="5.4" height="5.4"/><rect x="192.2" y="154.8" width="5.4" height="5.4"/><rect x="192.1" y="151.8" width="5.4" height="5.4"/><rect x="192.1" y="148.8" width="5.4" height="5.4"/><rect x="192.0" y="145.8" width="5.4" height="5.4"/><rect x="191.9" y="142.8" width="5.4" height="5.4"/><rect x="191.8" y="139.8" width="5.4" height="5.4"/><rect x="191.8" y="136.8" width="5.4" height="5.4"/><rect x="191.7" y="133.8" width="5.4" height="5.4"/><rect x="191.6" y="130.8" width="5.4" height="5.4"/><rect x="191.4" y="127.8" width="5.4" height="5.4"/><rect x="191.2" y="124.9" width="5.4" height="5.4"/><rect x="190.9" y="121.9" width="5.4" height="5.4"/><rect x="190.6" y="118.9" width="5.4" height="5.4"/><rect x="190.2" y="115.9" width="5.4" height="5.4"/><rect x="189.8" y="112.9" width="5.4" height="5.4"/><rect x="189.5" y="110.0" width="5.4" height="5.4"/><rect x="189.1" y="107.0" width="5.4" height="5.4"/><rect x="188.7" y="104.0" width="5.4" height="5.4"/><rect x="188.4" y="101.0" width="5.4" height="5.4"/><rect x="188.2" y="98.0" width="5.4" height="5.4"/><rect x="188.0" y="95.0" width="5.4" height="5.4"/><rect x="187.9" y="92.0" width="5.4" height="5.4"/><rect x="187.8" y="89.0" width="5.4" height="5.4"/><rect x="187.7" y="86.0" width="5.4" height="5.4"/><rect x="187.6" y="83.0" width="5.4" height="5.4"/><rect x="187.4" y="80.0" width="5.4" height="5.4"/><rect x="187.3" y="77.0" width="5.4" height="5.4"/><rect x="187.1" y="74.1" width="5.4" height="5.4"/><rect x="186.9" y="71.1" width="5.4" height="5.4"/><rect x="186.5" y="68.1" width="5.4" height="5.4"/><rect x="185.6" y="65.2" width="5.4" height="5.4"/><rect x="183.2" y="63.6" width="5.4" height="5.4"/><rect x="180.8" y="65.2" width="5.4" height="5.4"/><rect x="179.0" y="67.6" width="5.4" height="5.4"/><rect x="177.4" y="70.2" width="5.4" height="5.4"/><rect x="176.2" y="72.9" width="5.4" height="5.4"/><rect x="175.1" y="75.7" width="5.4" height="5.4"/><rect x="174.1" y="78.6" width="5.4" height="5.4"/><rect x="173.2" y="81.4" width="5.4" height="5.4"/><rect x="172.3" y="84.3" width="5.4" height="5.4"/><rect x="171.3" y="87.1" width="5.4" height="5.4"/><rect x="170.4" y="90.0" width="5.4" height="5.4"/><rect x="169.5" y="92.8" width="5.4" height="5.4"/><rect x="168.7" y="95.7" width="5.4" height="5.4"/><rect x="167.9" y="98.7" width="5.4" height="5.4"/><rect x="167.1" y="101.7" width="5.4" height="5.4"/><rect x="166.4" y="104.7" width="5.4" height="5.4"/><rect x="165.6" y="107.7" width="5.4" height="5.4"/><rect x="164.8" y="110.8" width="5.4" height="5.4"/><rect x="164.1" y="113.9" width="5.4" height="5.4"/><rect x="163.3" y="117.1" width="5.4" height="5.4"/><rect x="162.5" y="120.3" width="5.4" height="5.4"/><rect x="161.7" y="123.4" width="5.4" height="5.4"/><rect x="160.8" y="126.7" width="5.4" height="5.4"/><rect x="159.8" y="129.9" width="5.4" height="5.4"/><rect x="158.8" y="133.2" width="5.4" height="5.4"/><rect x="157.7" y="136.4" width="5.4" height="5.4"/><rect x="156.5" y="139.7" width="5.4" height="5.4"/><rect x="155.3" y="143.1" width="5.4" height="5.4"/><rect x="154.0" y="146.4" width="5.4" height="5.4"/><rect x="152.7" y="149.8" width="5.4" height="5.4"/><rect x="151.3" y="153.3" width="5.4" height="5.4"/><rect x="149.8" y="156.7" width="5.4" height="5.4"/><rect x="148.2" y="160.2" width="5.4" height="5.4"/><rect x="146.5" y="163.7" width="5.4" height="5.4"/><rect x="144.7" y="167.3" width="5.4" height="5.4"/><rect x="142.9" y="170.9" width="5.4" height="5.4"/><rect x="140.9" y="174.5" width="5.4" height="5.4"/><rect x="138.7" y="178.1" width="5.4" height="5.4"/><rect x="136.4" y="181.6" width="5.4" height="5.4"/><rect x="133.8" y="184.9" width="5.4" height="5.4"/><rect x="130.9" y="187.9" width="5.4" height="5.4"/><rect x="127.7" y="190.6" width="5.4" height="5.4"/><rect x="124.5" y="193.3" width="5.4" height="5.4"/><rect x="121.4" y="196.1" width="5.4" height="5.4"/><rect x="118.2" y="198.9" width="5.4" height="5.4"/><rect x="114.9" y="201.5" width="5.4" height="5.4"/><rect x="111.5" y="203.9" width="5.4" height="5.4"/><rect x="108.0" y="206.3" width="5.4" height="5.4"/><rect x="104.5" y="208.5" width="5.4" height="5.4"/><rect x="100.8" y="210.6" width="5.4" height="5.4"/><rect x="97.1" y="212.6" width="5.4" height="5.4"/><rect x="93.4" y="214.5" width="5.4" height="5.4"/><rect x="89.6" y="216.3" width="5.4" height="5.4"/><rect x="85.7" y="217.9" width="5.4" height="5.4"/><rect x="81.8" y="219.3" width="5.4" height="5.4"/><rect x="77.7" y="220.6" width="5.4" height="5.4"/><rect x="73.7" y="221.8" width="5.4" height="5.4"/><rect x="69.7" y="222.9" width="5.4" height="5.4"/><rect x="65.6" y="224.1" width="5.4" height="5.4"/></g>
<g fill="#ecd9ec" stroke="#800080" stroke-width="0.55"><rect x="65.9" y="224.4" width="4.9" height="4.9"/><rect x="70.0" y="223.3" width="4.9" height="4.9"/><rect x="74.0" y="222.2" width="4.9" height="4.9"/><rect x="78.1" y="221.0" width="4.9" height="4.9"/><rect x="82.1" y="219.8" width="4.9" height="4.9"/><rect x="86.1" y="218.4" width="4.9" height="4.9"/><rect x="90.0" y="216.9" width="4.9" height="4.9"/><rect x="93.8" y="215.1" width="4.9" height="4.9"/><rect x="97.5" y="213.2" width="4.9" height="4.9"/><rect x="101.2" y="211.3" width="4.9" height="4.9"/><rect x="104.9" y="209.2" width="4.9" height="4.9"/><rect x="108.5" y="207.0" width="4.9" height="4.9"/><rect x="112.0" y="204.7" width="4.9" height="4.9"/><rect x="115.4" y="202.3" width="4.9" height="4.9"/><rect x="118.7" y="199.7" width="4.9" height="4.9"/><rect x="121.9" y="196.9" width="4.9" height="4.9"/><rect x="125.1" y="194.2" width="4.9" height="4.9"/><rect x="128.3" y="191.5" width="4.9" height="4.9"/><rect x="131.5" y="188.8" width="4.9" height="4.9"/><rect x="134.5" y="185.8" width="4.9" height="4.9"/><rect x="137.1" y="182.5" width="4.9" height="4.9"/><rect x="139.4" y="179.0" width="4.9" height="4.9"/><rect x="141.6" y="175.4" width="4.9" height="4.9"/><rect x="143.6" y="171.9" width="4.9" height="4.9"/><rect x="145.5" y="168.3" width="4.9" height="4.9"/><rect x="147.3" y="164.8" width="4.9" height="4.9"/><rect x="149.0" y="161.3" width="4.9" height="4.9"/><rect x="150.6" y="157.8" width="4.9" height="4.9"/><rect x="152.1" y="154.4" width="4.9" height="4.9"/><rect x="153.5" y="151.0" width="4.9" height="4.9"/><rect x="154.9" y="147.6" width="4.9" height="4.9"/><rect x="156.2" y="144.2" width="4.9" height="4.9"/><rect x="157.4" y="140.9" width="4.9" height="4.9"/><rect x="158.6" y="137.6" width="4.9" height="4.9"/><rect x="159.7" y="134.3" width="4.9" height="4.9"/><rect x="160.8" y="131.1" width="4.9" height="4.9"/><rect x="161.7" y="127.9" width="4.9" height="4.9"/><rect x="162.6" y="124.6" width="4.9" height="4.9"/><rect x="163.4" y="121.5" width="4.9" height="4.9"/><rect x="164.3" y="118.3" width="4.9" height="4.9"/><rect x="165.0" y="115.2" width="4.9" height="4.9"/><rect x="165.8" y="112.1" width="4.9" height="4.9"/><rect x="166.6" y="109.0" width="4.9" height="4.9"/><rect x="167.4" y="105.9" width="4.9" height="4.9"/><rect x="168.2" y="102.9" width="4.9" height="4.9"/><rect x="169.0" y="100.0" width="4.9" height="4.9"/><rect x="169.8" y="97.0" width="4.9" height="4.9"/><rect x="170.7" y="94.2" width="4.9" height="4.9"/><rect x="171.6" y="91.3" width="4.9" height="4.9"/><rect x="172.5" y="88.4" width="4.9" height="4.9"/><rect x="173.4" y="85.6" width="4.9" height="4.9"/><rect x="174.4" y="82.7" width="4.9" height="4.9"/><rect x="175.4" y="79.9" width="4.9" height="4.9"/><rect x="176.4" y="77.1" width="4.9" height="4.9"/><rect x="177.5" y="74.3" width="4.9" height="4.9"/><rect x="178.9" y="71.6" width="4.9" height="4.9"/><rect x="180.6" y="69.2" width="4.9" height="4.9"/><rect x="182.5" y="66.9" width="4.9" height="4.9"/><rect x="185.2" y="66.3" width="4.9" height="4.9"/><rect x="187.0" y="68.6" width="4.9" height="4.9"/><rect x="187.7" y="71.5" width="4.9" height="4.9"/><rect x="187.9" y="74.5" width="4.9" height="4.9"/><rect x="188.1" y="77.5" width="4.9" height="4.9"/><rect x="188.3" y="80.5" width="4.9" height="4.9"/><rect x="188.4" y="83.4" width="4.9" height="4.9"/><rect x="188.5" y="86.4" width="4.9" height="4.9"/><rect x="188.6" y="89.4" width="4.9" height="4.9"/><rect x="188.7" y="92.4" width="4.9" height="4.9"/><rect x="188.8" y="95.4" width="4.9" height="4.9"/><rect x="188.9" y="98.4" width="4.9" height="4.9"/><rect x="189.1" y="101.4" width="4.9" height="4.9"/><rect x="189.4" y="104.4" width="4.9" height="4.9"/><rect x="189.7" y="107.4" width="4.9" height="4.9"/><rect x="190.1" y="110.4" width="4.9" height="4.9"/><rect x="190.5" y="113.4" width="4.9" height="4.9"/><rect x="190.8" y="116.3" width="4.9" height="4.9"/><rect x="191.2" y="119.3" width="4.9" height="4.9"/><rect x="191.6" y="122.3" width="4.9" height="4.9"/><rect x="191.8" y="125.3" width="4.9" height="4.9"/><rect x="192.1" y="128.3" width="4.9" height="4.9"/><rect x="192.3" y="131.3" width="4.9" height="4.9"/><rect x="192.4" y="134.3" width="4.9" height="4.9"/><rect x="192.5" y="137.3" width="4.9" height="4.9"/><rect x="192.5" y="140.3" width="4.9" height="4.9"/><rect x="192.6" y="143.3" width="4.9" height="4.9"/><rect x="192.7" y="146.3" width="4.9" height="4.9"/><rect x="192.7" y="149.3" width="4.9" height="4.9"/><rect x="192.8" y="152.3" width="4.9" height="4.9"/><rect x="192.8" y="155.3" width="4.9" height="4.9"/><rect x="192.9" y="158.3" width="4.9" height="4.9"/><rect x="193.0" y="161.3" width="4.9" height="4.9"/><rect x="193.0" y="164.3" width="4.9" height="4.9"/><rect x="193.1" y="167.3" width="4.9" height="4.9"/><rect x="193.1" y="170.3" width="4.9" height="4.9"/><rect x="193.2" y="173.3" width="4.9" height="4.9"/><rect x="193.3" y="176.2" width="4.9" height="4.9"/><rect x="193.3" y="179.2" width="4.9" height="4.9"/><rect x="193.4" y="182.2" width="4.9" height="4.9"/><rect x="193.5" y="185.2" width="4.9" height="4.9"/><rect x="193.6" y="188.2" width="4.9" height="4.9"/><rect x="193.7" y="191.2" width="4.9" height="4.9"/><rect x="193.8" y="194.2" width="4.9" height="4.9"/><rect x="193.9" y="197.2" width="4.9" height="4.9"/><rect x="193.9" y="200.2" width="4.9" height="4.9"/><rect x="194.0" y="203.2" width="4.9" height="4.9"/><rect x="194.2" y="206.2" width="4.9" height="4.9"/><rect x="194.3" y="209.2" width="4.9" height="4.9"/><rect x="194.5" y="212.2" width="4.9" height="4.9"/><rect x="194.9" y="212.0" width="4.9" height="4.9"/><rect x="195.0" y="209.0" width="4.9" height="4.9"/><rect x="195.2" y="206.0" width="4.9" height="4.9"/><rect x="195.3" y="203.0" width="4.9" height="4.9"/><rect x="195.4" y="200.0" width="4.9" height="4.9"/><rect x="195.5" y="197.0" width="4.9" height="4.9"/><rect x="195.6" y="194.0" width="4.9" height="4.9"/><rect x="195.6" y="191.0" width="4.9" height="4.9"/><rect x="195.7" y="188.0" width="4.9" height="4.9"/><rect x="195.8" y="185.0" width="4.9" height="4.9"/><rect x="195.9" y="182.0" width="4.9" height="4.9"/><rect x="196.0" y="179.0" width="4.9" height="4.9"/><rect x="196.1" y="176.0" width="4.9" height="4.9"/><rect x="196.1" y="173.0" width="4.9" height="4.9"/><rect x="196.2" y="170.0" width="4.9" height="4.9"/><rect x="196.2" y="167.0" width="4.9" height="4.9"/><rect x="196.3" y="164.0" width="4.9" height="4.9"/><rect x="196.3" y="161.0" width="4.9" height="4.9"/><rect x="196.4" y="158.0" width="4.9" height="4.9"/><rect x="196.5" y="155.0" width="4.9" height="4.9"/><rect x="196.5" y="152.0" width="4.9" height="4.9"/><rect x="196.6" y="149.0" width="4.9" height="4.9"/><rect x="196.6" y="146.0" width="4.9" height="4.9"/><rect x="196.7" y="143.0" width="4.9" height="4.9"/><rect x="196.8" y="140.0" width="4.9" height="4.9"/><rect x="196.8" y="137.0" width="4.9" height="4.9"/><rect x="196.9" y="134.0" width="4.9" height="4.9"/><rect x="197.0" y="131.0" width="4.9" height="4.9"/><rect x="197.2" y="128.0" width="4.9" height="4.9"/><rect x="197.5" y="125.1" width="4.9" height="4.9"/><rect x="197.7" y="122.1" width="4.9" height="4.9"/><rect x="198.1" y="119.1" width="4.9" height="4.9"/><rect x="198.5" y="116.1" width="4.9" height="4.9"/><rect x="198.8" y="113.1" width="4.9" height="4.9"/><rect x="199.2" y="110.2" width="4.9" height="4.9"/><rect x="199.6" y="107.2" width="4.9" height="4.9"/><rect x="199.9" y="104.2" width="4.9" height="4.9"/><rect x="200.2" y="101.2" width="4.9" height="4.9"/><rect x="200.3" y="98.2" width="4.9" height="4.9"/><rect x="200.4" y="95.2" width="4.9" height="4.9"/><rect x="200.5" y="92.2" width="4.9" height="4.9"/><rect x="200.6" y="89.2" width="4.9" height="4.9"/><rect x="200.7" y="86.2" width="4.9" height="4.9"/><rect x="200.8" y="83.2" width="4.9" height="4.9"/><rect x="201.0" y="80.2" width="4.9" height="4.9"/><rect x="201.1" y="77.2" width="4.9" height="4.9"/><rect x="201.3" y="74.2" width="4.9" height="4.9"/><rect x="201.6" y="71.3" width="4.9" height="4.9"/><rect x="202.3" y="68.3" width="4.9" height="4.9"/><rect x="204.3" y="66.1" width="4.9" height="4.9"/><rect x="206.9" y="67.0" width="4.9" height="4.9"/><rect x="208.8" y="69.4" width="4.9" height="4.9"/><rect x="210.5" y="71.8" width="4.9" height="4.9"/><rect x="211.8" y="74.5" width="4.9" height="4.9"/><rect x="212.9" y="77.3" width="4.9" height="4.9"/><rect x="213.9" y="80.1" width="4.9" height="4.9"/><rect x="214.9" y="83.0" width="4.9" height="4.9"/><rect x="215.8" y="85.8" width="4.9" height="4.9"/><rect x="216.8" y="88.7" width="4.9" height="4.9"/><rect x="217.7" y="91.5" width="4.9" height="4.9"/><rect x="218.6" y="94.4" width="4.9" height="4.9"/><rect x="219.5" y="97.3" width="4.9" height="4.9"/><rect x="220.3" y="100.2" width="4.9" height="4.9"/><rect x="221.1" y="103.2" width="4.9" height="4.9"/><rect x="221.9" y="106.2" width="4.9" height="4.9"/><rect x="222.7" y="109.2" width="4.9" height="4.9"/><rect x="223.4" y="112.3" width="4.9" height="4.9"/><rect x="224.2" y="115.4" width="4.9" height="4.9"/><rect x="225.0" y="118.5" width="4.9" height="4.9"/><rect x="225.8" y="121.7" width="4.9" height="4.9"/><rect x="226.7" y="124.9" width="4.9" height="4.9"/><rect x="227.6" y="128.1" width="4.9" height="4.9"/><rect x="228.5" y="131.3" width="4.9" height="4.9"/><rect x="229.6" y="134.6" width="4.9" height="4.9"/><rect x="230.7" y="137.9" width="4.9" height="4.9"/><rect x="231.9" y="141.1" width="4.9" height="4.9"/><rect x="233.1" y="144.5" width="4.9" height="4.9"/><rect x="234.4" y="147.8" width="4.9" height="4.9"/><rect x="235.8" y="151.2" width="4.9" height="4.9"/><rect x="237.2" y="154.6" width="4.9" height="4.9"/><rect x="238.7" y="158.1" width="4.9" height="4.9"/><rect x="240.3" y="161.6" width="4.9" height="4.9"/><rect x="242.1" y="165.1" width="4.9" height="4.9"/><rect x="243.9" y="168.6" width="4.9" height="4.9"/><rect x="245.8" y="172.1" width="4.9" height="4.9"/><rect x="247.8" y="175.7" width="4.9" height="4.9"/><rect x="250.0" y="179.3" width="4.9" height="4.9"/><rect x="252.3" y="182.8" width="4.9" height="4.9"/><rect x="255.0" y="186.1" width="4.9" height="4.9"/><rect x="258.0" y="189.0" width="4.9" height="4.9"/><rect x="261.2" y="191.7" width="4.9" height="4.9"/><rect x="264.4" y="194.4" width="4.9" height="4.9"/><rect x="267.6" y="197.2" width="4.9" height="4.9"/><rect x="270.7" y="199.9" width="4.9" height="4.9"/><rect x="274.1" y="202.5" width="4.9" height="4.9"/><rect x="277.5" y="204.9" width="4.9" height="4.9"/><rect x="281.0" y="207.2" width="4.9" height="4.9"/><rect x="284.6" y="209.4" width="4.9" height="4.9"/><rect x="288.3" y="211.4" width="4.9" height="4.9"/><rect x="292.0" y="213.4" width="4.9" height="4.9"/><rect x="295.7" y="215.3" width="4.9" height="4.9"/><rect x="299.6" y="217.0" width="4.9" height="4.9"/><rect x="303.5" y="218.6" width="4.9" height="4.9"/><rect x="307.4" y="219.9" width="4.9" height="4.9"/><rect x="311.5" y="221.1" width="4.9" height="4.9"/><rect x="315.5" y="222.3" width="4.9" height="4.9"/><rect x="319.6" y="223.4" width="4.9" height="4.9"/><rect x="323.6" y="224.5" width="4.9" height="4.9"/></g>
<g fill="#edd9db" stroke="#8a0010" stroke-width="0.55"><rect x="65.1" y="224.6" width="4.9" height="4.9"/><rect x="69.3" y="224.2" width="4.9" height="4.9"/><rect x="73.5" y="223.7" width="4.9" height="4.9"/><rect x="77.6" y="223.1" width="4.9" height="4.9"/><rect x="81.8" y="222.4" width="4.9" height="4.9"/><rect x="85.9" y="221.5" width="4.9" height="4.9"/><rect x="89.9" y="220.5" width="4.9" height="4.9"/><rect x="94.0" y="219.2" width="4.9" height="4.9"/><rect x="97.8" y="217.4" width="4.9" height="4.9"/><rect x="101.5" y="215.5" width="4.9" height="4.9"/><rect x="105.1" y="213.4" width="4.9" height="4.9"/><rect x="108.7" y="211.2" width="4.9" height="4.9"/><rect x="112.2" y="208.8" width="4.9" height="4.9"/><rect x="115.6" y="206.4" width="4.9" height="4.9"/><rect x="118.9" y="203.8" width="4.9" height="4.9"/><rect x="122.2" y="201.2" width="4.9" height="4.9"/><rect x="125.3" y="198.4" width="4.9" height="4.9"/><rect x="128.5" y="195.7" width="4.9" height="4.9"/><rect x="131.6" y="192.8" width="4.9" height="4.9"/><rect x="134.5" y="189.8" width="4.9" height="4.9"/><rect x="137.1" y="186.5" width="4.9" height="4.9"/><rect x="139.6" y="183.1" width="4.9" height="4.9"/><rect x="142.0" y="179.7" width="4.9" height="4.9"/><rect x="144.3" y="176.4" width="4.9" height="4.9"/><rect x="146.6" y="173.2" width="4.9" height="4.9"/><rect x="148.9" y="170.0" width="4.9" height="4.9"/><rect x="151.1" y="167.0" width="4.9" height="4.9"/><rect x="153.5" y="164.2" width="4.9" height="4.9"/><rect x="156.1" y="161.7" width="4.9" height="4.9"/><rect x="158.8" y="159.5" width="4.9" height="4.9"/><rect x="161.6" y="157.6" width="4.9" height="4.9"/><rect x="164.4" y="156.0" width="4.9" height="4.9"/><rect x="167.4" y="154.8" width="4.9" height="4.9"/><rect x="170.2" y="153.8" width="4.9" height="4.9"/><rect x="173.2" y="153.2" width="4.9" height="4.9"/><rect x="176.1" y="153.5" width="4.9" height="4.9"/><rect x="178.9" y="154.6" width="4.9" height="4.9"/><rect x="181.2" y="156.5" width="4.9" height="4.9"/><rect x="182.8" y="159.1" width="4.9" height="4.9"/><rect x="183.9" y="161.8" width="4.9" height="4.9"/><rect x="184.7" y="164.7" width="4.9" height="4.9"/><rect x="185.5" y="167.6" width="4.9" height="4.9"/><rect x="186.2" y="170.5" width="4.9" height="4.9"/><rect x="186.8" y="173.5" width="4.9" height="4.9"/><rect x="187.4" y="176.4" width="4.9" height="4.9"/><rect x="188.0" y="179.4" width="4.9" height="4.9"/><rect x="188.6" y="182.3" width="4.9" height="4.9"/><rect x="189.2" y="185.2" width="4.9" height="4.9"/><rect x="189.8" y="188.2" width="4.9" height="4.9"/><rect x="190.4" y="191.1" width="4.9" height="4.9"/><rect x="190.9" y="194.1" width="4.9" height="4.9"/><rect x="191.5" y="197.0" width="4.9" height="4.9"/><rect x="192.0" y="200.0" width="4.9" height="4.9"/><rect x="192.5" y="202.9" width="4.9" height="4.9"/><rect x="193.0" y="205.9" width="4.9" height="4.9"/><rect x="193.6" y="208.8" width="4.9" height="4.9"/><rect x="194.0" y="211.8" width="4.9" height="4.9"/><rect x="194.5" y="214.8" width="4.9" height="4.9"/><rect x="195.1" y="212.5" width="4.9" height="4.9"/><rect x="195.5" y="209.6" width="4.9" height="4.9"/><rect x="195.9" y="206.6" width="4.9" height="4.9"/><rect x="196.3" y="203.6" width="4.9" height="4.9"/><rect x="196.8" y="200.6" width="4.9" height="4.9"/><rect x="197.2" y="197.7" width="4.9" height="4.9"/><rect x="197.7" y="194.7" width="4.9" height="4.9"/><rect x="198.2" y="191.8" width="4.9" height="4.9"/><rect x="198.6" y="188.8" width="4.9" height="4.9"/><rect x="199.1" y="185.8" width="4.9" height="4.9"/><rect x="199.6" y="182.9" width="4.9" height="4.9"/><rect x="200.1" y="179.9" width="4.9" height="4.9"/><rect x="200.7" y="177.0" width="4.9" height="4.9"/><rect x="201.2" y="174.0" width="4.9" height="4.9"/><rect x="201.7" y="171.1" width="4.9" height="4.9"/><rect x="202.3" y="168.1" width="4.9" height="4.9"/><rect x="202.9" y="165.2" width="4.9" height="4.9"/><rect x="203.6" y="162.3" width="4.9" height="4.9"/><rect x="204.6" y="159.4" width="4.9" height="4.9"/><rect x="206.1" y="156.9" width="4.9" height="4.9"/><rect x="208.3" y="154.8" width="4.9" height="4.9"/><rect x="211.1" y="153.6" width="4.9" height="4.9"/><rect x="214.0" y="153.2" width="4.9" height="4.9"/><rect x="217.0" y="153.7" width="4.9" height="4.9"/><rect x="219.8" y="154.6" width="4.9" height="4.9"/><rect x="222.7" y="155.8" width="4.9" height="4.9"/><rect x="225.6" y="157.3" width="4.9" height="4.9"/><rect x="228.4" y="159.2" width="4.9" height="4.9"/><rect x="231.1" y="161.3" width="4.9" height="4.9"/><rect x="233.7" y="163.8" width="4.9" height="4.9"/><rect x="236.2" y="166.6" width="4.9" height="4.9"/><rect x="238.4" y="169.6" width="4.9" height="4.9"/><rect x="240.7" y="172.7" width="4.9" height="4.9"/><rect x="243.0" y="175.9" width="4.9" height="4.9"/><rect x="245.3" y="179.2" width="4.9" height="4.9"/><rect x="247.7" y="182.6" width="4.9" height="4.9"/><rect x="250.1" y="186.0" width="4.9" height="4.9"/><rect x="252.7" y="189.3" width="4.9" height="4.9"/><rect x="255.6" y="192.4" width="4.9" height="4.9"/><rect x="258.7" y="195.2" width="4.9" height="4.9"/><rect x="261.8" y="198.0" width="4.9" height="4.9"/><rect x="265.0" y="200.8" width="4.9" height="4.9"/><rect x="268.2" y="203.5" width="4.9" height="4.9"/><rect x="271.5" y="206.0" width="4.9" height="4.9"/><rect x="275.0" y="208.5" width="4.9" height="4.9"/><rect x="278.4" y="210.9" width="4.9" height="4.9"/><rect x="281.9" y="213.1" width="4.9" height="4.9"/><rect x="285.6" y="215.2" width="4.9" height="4.9"/><rect x="289.3" y="217.2" width="4.9" height="4.9"/><rect x="293.1" y="219.0" width="4.9" height="4.9"/><rect x="297.1" y="220.3" width="4.9" height="4.9"/><rect x="301.1" y="221.4" width="4.9" height="4.9"/><rect x="305.2" y="222.3" width="4.9" height="4.9"/><rect x="309.4" y="223.0" width="4.9" height="4.9"/><rect x="313.5" y="223.6" width="4.9" height="4.9"/><rect x="317.7" y="224.1" width="4.9" height="4.9"/><rect x="321.9" y="224.6" width="4.9" height="4.9"/></g>
<g fill="#8a0010"><rect x="320.6" y="222.1" width="6.4" height="6.4"/><rect x="316.5" y="221.1" width="6.4" height="6.4"/><rect x="312.5" y="220.1" width="6.4" height="6.4"/><rect x="308.4" y="218.9" width="6.4" height="6.4"/><rect x="304.4" y="217.7" width="6.4" height="6.4"/><rect x="300.4" y="216.3" width="6.4" height="6.4"/><rect x="296.5" y="214.8" width="6.4" height="6.4"/><rect x="292.7" y="213.1" width="6.4" height="6.4"/><rect x="288.9" y="211.3" width="6.4" height="6.4"/><rect x="285.1" y="209.4" width="6.4" height="6.4"/><rect x="281.5" y="207.3" width="6.4" height="6.4"/><rect x="278.0" y="205.0" width="6.4" height="6.4"/><rect x="274.5" y="202.6" width="6.4" height="6.4"/><rect x="271.1" y="200.2" width="6.4" height="6.4"/><rect x="267.8" y="197.6" width="6.4" height="6.4"/><rect x="264.6" y="194.9" width="6.4" height="6.4"/><rect x="261.4" y="192.2" width="6.4" height="6.4"/><rect x="258.2" y="189.4" width="6.4" height="6.4"/><rect x="255.2" y="186.5" width="6.4" height="6.4"/><rect x="252.3" y="183.5" width="6.4" height="6.4"/><rect x="249.6" y="180.3" width="6.4" height="6.4"/><rect x="246.9" y="177.0" width="6.4" height="6.4"/><rect x="244.4" y="173.8" width="6.4" height="6.4"/><rect x="241.8" y="170.7" width="6.4" height="6.4"/><rect x="239.4" y="167.7" width="6.4" height="6.4"/><rect x="236.9" y="164.7" width="6.4" height="6.4"/><rect x="234.3" y="162.0" width="6.4" height="6.4"/><rect x="231.6" y="159.7" width="6.4" height="6.4"/><rect x="228.8" y="157.6" width="6.4" height="6.4"/><rect x="226.0" y="155.7" width="6.4" height="6.4"/><rect x="223.1" y="154.1" width="6.4" height="6.4"/><rect x="220.2" y="152.9" width="6.4" height="6.4"/><rect x="217.3" y="151.8" width="6.4" height="6.4"/><rect x="214.4" y="151.2" width="6.4" height="6.4"/><rect x="211.4" y="151.4" width="6.4" height="6.4"/><rect x="208.6" y="152.3" width="6.4" height="6.4"/><rect x="206.3" y="154.2" width="6.4" height="6.4"/><rect x="204.6" y="156.7" width="6.4" height="6.4"/><rect x="203.5" y="159.4" width="6.4" height="6.4"/><rect x="202.7" y="162.3" width="6.4" height="6.4"/><rect x="202.0" y="165.3" width="6.4" height="6.4"/><rect x="201.5" y="168.2" width="6.4" height="6.4"/><rect x="200.9" y="171.2" width="6.4" height="6.4"/><rect x="200.4" y="174.1" width="6.4" height="6.4"/><rect x="199.9" y="177.1" width="6.4" height="6.4"/><rect x="199.4" y="180.0" width="6.4" height="6.4"/><rect x="198.9" y="183.0" width="6.4" height="6.4"/><rect x="198.4" y="185.9" width="6.4" height="6.4"/><rect x="197.9" y="188.9" width="6.4" height="6.4"/><rect x="197.4" y="191.9" width="6.4" height="6.4"/><rect x="197.0" y="194.8" width="6.4" height="6.4"/><rect x="196.5" y="197.8" width="6.4" height="6.4"/><rect x="196.1" y="200.8" width="6.4" height="6.4"/><rect x="195.6" y="203.7" width="6.4" height="6.4"/><rect x="195.2" y="206.7" width="6.4" height="6.4"/><rect x="194.8" y="209.7" width="6.4" height="6.4"/><rect x="194.4" y="212.7" width="6.4" height="6.4"/><rect x="193.0" y="211.3" width="6.4" height="6.4"/><rect x="192.6" y="208.3" width="6.4" height="6.4"/><rect x="192.1" y="205.4" width="6.4" height="6.4"/><rect x="191.6" y="202.4" width="6.4" height="6.4"/><rect x="191.1" y="199.4" width="6.4" height="6.4"/><rect x="190.6" y="196.5" width="6.4" height="6.4"/><rect x="190.0" y="193.5" width="6.4" height="6.4"/><rect x="189.5" y="190.6" width="6.4" height="6.4"/><rect x="188.9" y="187.7" width="6.4" height="6.4"/><rect x="188.3" y="184.7" width="6.4" height="6.4"/><rect x="187.7" y="181.8" width="6.4" height="6.4"/><rect x="187.1" y="178.8" width="6.4" height="6.4"/><rect x="186.5" y="175.9" width="6.4" height="6.4"/><rect x="185.9" y="173.0" width="6.4" height="6.4"/><rect x="185.3" y="170.0" width="6.4" height="6.4"/><rect x="184.7" y="167.1" width="6.4" height="6.4"/><rect x="183.9" y="164.2" width="6.4" height="6.4"/><rect x="183.1" y="161.3" width="6.4" height="6.4"/><rect x="182.3" y="158.4" width="6.4" height="6.4"/><rect x="180.9" y="155.7" width="6.4" height="6.4"/><rect x="179.0" y="153.4" width="6.4" height="6.4"/><rect x="176.5" y="151.9" width="6.4" height="6.4"/><rect x="173.6" y="151.2" width="6.4" height="6.4"/><rect x="170.6" y="151.4" width="6.4" height="6.4"/><rect x="167.7" y="152.2" width="6.4" height="6.4"/><rect x="164.8" y="153.3" width="6.4" height="6.4"/><rect x="161.9" y="154.6" width="6.4" height="6.4"/><rect x="159.1" y="156.4" width="6.4" height="6.4"/><rect x="156.3" y="158.3" width="6.4" height="6.4"/><rect x="153.5" y="160.5" width="6.4" height="6.4"/><rect x="150.8" y="162.9" width="6.4" height="6.4"/><rect x="148.2" y="165.7" width="6.4" height="6.4"/><rect x="145.8" y="168.7" width="6.4" height="6.4"/><rect x="143.3" y="171.8" width="6.4" height="6.4"/><rect x="140.8" y="175.0" width="6.4" height="6.4"/><rect x="138.2" y="178.2" width="6.4" height="6.4"/><rect x="135.5" y="181.5" width="6.4" height="6.4"/><rect x="132.8" y="184.6" width="6.4" height="6.4"/><rect x="129.8" y="187.6" width="6.4" height="6.4"/><rect x="126.7" y="190.4" width="6.4" height="6.4"/><rect x="123.5" y="193.2" width="6.4" height="6.4"/><rect x="120.3" y="195.9" width="6.4" height="6.4"/><rect x="117.1" y="198.6" width="6.4" height="6.4"/><rect x="113.7" y="201.1" width="6.4" height="6.4"/><rect x="110.3" y="203.5" width="6.4" height="6.4"/><rect x="106.8" y="205.9" width="6.4" height="6.4"/><rect x="103.2" y="208.1" width="6.4" height="6.4"/><rect x="99.6" y="210.1" width="6.4" height="6.4"/><rect x="95.8" y="212.0" width="6.4" height="6.4"/><rect x="92.0" y="213.8" width="6.4" height="6.4"/><rect x="88.1" y="215.4" width="6.4" height="6.4"/><rect x="84.2" y="216.8" width="6.4" height="6.4"/><rect x="80.2" y="218.2" width="6.4" height="6.4"/><rect x="76.2" y="219.3" width="6.4" height="6.4"/><rect x="72.1" y="220.4" width="6.4" height="6.4"/><rect x="68.0" y="221.5" width="6.4" height="6.4"/><rect x="64.0" y="222.4" width="6.4" height="6.4"/></g>
<g fill="#edd9db" stroke="#8a0010" stroke-width="0.55"><rect x="183.9" y="161.8" width="4.9" height="4.9"/><rect x="184.7" y="164.7" width="4.9" height="4.9"/><rect x="185.5" y="167.6" width="4.9" height="4.9"/><rect x="186.2" y="170.5" width="4.9" height="4.9"/><rect x="186.8" y="173.5" width="4.9" height="4.9"/><rect x="187.4" y="176.4" width="4.9" height="4.9"/><rect x="188.0" y="179.4" width="4.9" height="4.9"/><rect x="188.6" y="182.3" width="4.9" height="4.9"/><rect x="189.2" y="185.2" width="4.9" height="4.9"/><rect x="189.8" y="188.2" width="4.9" height="4.9"/><rect x="190.4" y="191.1" width="4.9" height="4.9"/><rect x="190.9" y="194.1" width="4.9" height="4.9"/><rect x="191.5" y="197.0" width="4.9" height="4.9"/><rect x="192.0" y="200.0" width="4.9" height="4.9"/><rect x="192.5" y="202.9" width="4.9" height="4.9"/><rect x="193.0" y="205.9" width="4.9" height="4.9"/><rect x="193.6" y="208.8" width="4.9" height="4.9"/><rect x="194.0" y="211.8" width="4.9" height="4.9"/><rect x="194.5" y="214.8" width="4.9" height="4.9"/><rect x="195.1" y="212.5" width="4.9" height="4.9"/><rect x="195.5" y="209.6" width="4.9" height="4.9"/><rect x="195.9" y="206.6" width="4.9" height="4.9"/><rect x="196.3" y="203.6" width="4.9" height="4.9"/><rect x="196.8" y="200.6" width="4.9" height="4.9"/><rect x="197.2" y="197.7" width="4.9" height="4.9"/><rect x="197.7" y="194.7" width="4.9" height="4.9"/><rect x="198.2" y="191.8" width="4.9" height="4.9"/><rect x="198.6" y="188.8" width="4.9" height="4.9"/><rect x="199.1" y="185.8" width="4.9" height="4.9"/><rect x="199.6" y="182.9" width="4.9" height="4.9"/><rect x="200.1" y="179.9" width="4.9" height="4.9"/><rect x="200.7" y="177.0" width="4.9" height="4.9"/><rect x="201.2" y="174.0" width="4.9" height="4.9"/><rect x="201.7" y="171.1" width="4.9" height="4.9"/><rect x="202.3" y="168.1" width="4.9" height="4.9"/><rect x="202.9" y="165.2" width="4.9" height="4.9"/><rect x="203.6" y="162.3" width="4.9" height="4.9"/></g>
<g fill="#f51a2e"><rect x="321.1" y="223.0" width="5.4" height="5.4"/><rect x="317.1" y="221.7" width="5.4" height="5.4"/><rect x="313.2" y="220.3" width="5.4" height="5.4"/><rect x="309.3" y="218.8" width="5.4" height="5.4"/><rect x="305.4" y="217.3" width="5.4" height="5.4"/><rect x="301.5" y="215.6" width="5.4" height="5.4"/><rect x="297.7" y="213.9" width="5.4" height="5.4"/><rect x="293.9" y="212.1" width="5.4" height="5.4"/><rect x="290.2" y="210.1" width="5.4" height="5.4"/><rect x="286.5" y="208.1" width="5.4" height="5.4"/><rect x="282.9" y="205.8" width="5.4" height="5.4"/><rect x="279.5" y="203.5" width="5.4" height="5.4"/><rect x="276.1" y="201.0" width="5.4" height="5.4"/><rect x="272.7" y="198.5" width="5.4" height="5.4"/><rect x="269.4" y="195.8" width="5.4" height="5.4"/><rect x="266.3" y="193.1" width="5.4" height="5.4"/><rect x="263.1" y="190.3" width="5.4" height="5.4"/><rect x="260.0" y="187.5" width="5.4" height="5.4"/><rect x="257.0" y="184.6" width="5.4" height="5.4"/><rect x="254.2" y="181.4" width="5.4" height="5.4"/><rect x="251.6" y="178.2" width="5.4" height="5.4"/><rect x="249.1" y="174.8" width="5.4" height="5.4"/><rect x="246.8" y="171.4" width="5.4" height="5.4"/><rect x="244.6" y="168.0" width="5.4" height="5.4"/><rect x="242.6" y="164.6" width="5.4" height="5.4"/><rect x="240.8" y="161.2" width="5.4" height="5.4"/><rect x="239.1" y="157.8" width="5.4" height="5.4"/><rect x="237.5" y="154.4" width="5.4" height="5.4"/><rect x="236.0" y="151.1" width="5.4" height="5.4"/><rect x="234.5" y="147.8" width="5.4" height="5.4"/><rect x="233.1" y="144.6" width="5.4" height="5.4"/><rect x="231.8" y="141.4" width="5.4" height="5.4"/><rect x="230.6" y="138.1" width="5.4" height="5.4"/><rect x="229.4" y="134.9" width="5.4" height="5.4"/><rect x="228.3" y="131.8" width="5.4" height="5.4"/><rect x="227.2" y="128.7" width="5.4" height="5.4"/><rect x="226.0" y="125.6" width="5.4" height="5.4"/><rect x="224.8" y="122.7" width="5.4" height="5.4"/><rect x="223.5" y="119.8" width="5.4" height="5.4"/><rect x="221.9" y="117.2" width="5.4" height="5.4"/><rect x="220.1" y="114.7" width="5.4" height="5.4"/><rect x="218.1" y="112.5" width="5.4" height="5.4"/><rect x="215.8" y="110.6" width="5.4" height="5.4"/><rect x="213.2" y="109.1" width="5.4" height="5.4"/><rect x="210.3" y="108.6" width="5.4" height="5.4"/><rect x="208.1" y="110.5" width="5.4" height="5.4"/><rect x="206.5" y="113.1" width="5.4" height="5.4"/><rect x="205.2" y="115.8" width="5.4" height="5.4"/><rect x="204.5" y="118.7" width="5.4" height="5.4"/><rect x="203.9" y="121.6" width="5.4" height="5.4"/><rect x="203.4" y="124.6" width="5.4" height="5.4"/><rect x="203.0" y="127.6" width="5.4" height="5.4"/><rect x="202.7" y="130.6" width="5.4" height="5.4"/><rect x="202.4" y="133.5" width="5.4" height="5.4"/><rect x="202.1" y="136.5" width="5.4" height="5.4"/><rect x="201.9" y="139.5" width="5.4" height="5.4"/><rect x="201.7" y="142.5" width="5.4" height="5.4"/><rect x="201.6" y="145.5" width="5.4" height="5.4"/><rect x="201.4" y="148.5" width="5.4" height="5.4"/><rect x="201.3" y="151.5" width="5.4" height="5.4"/><rect x="201.1" y="154.5" width="5.4" height="5.4"/><rect x="201.0" y="157.5" width="5.4" height="5.4"/><rect x="200.8" y="160.5" width="5.4" height="5.4"/><rect x="200.6" y="163.5" width="5.4" height="5.4"/><rect x="200.4" y="166.5" width="5.4" height="5.4"/><rect x="200.2" y="169.5" width="5.4" height="5.4"/><rect x="199.9" y="172.5" width="5.4" height="5.4"/><rect x="199.7" y="175.4" width="5.4" height="5.4"/><rect x="199.4" y="178.4" width="5.4" height="5.4"/><rect x="199.1" y="181.4" width="5.4" height="5.4"/><rect x="198.8" y="184.4" width="5.4" height="5.4"/><rect x="198.5" y="187.4" width="5.4" height="5.4"/><rect x="198.2" y="190.4" width="5.4" height="5.4"/><rect x="197.8" y="193.4" width="5.4" height="5.4"/><rect x="197.4" y="196.3" width="5.4" height="5.4"/><rect x="197.0" y="199.3" width="5.4" height="5.4"/><rect x="196.6" y="202.3" width="5.4" height="5.4"/><rect x="196.1" y="205.2" width="5.4" height="5.4"/><rect x="195.7" y="208.2" width="5.4" height="5.4"/><rect x="195.2" y="211.2" width="5.4" height="5.4"/><rect x="194.7" y="214.1" width="5.4" height="5.4"/><rect x="193.8" y="212.1" width="5.4" height="5.4"/><rect x="193.5" y="209.2" width="5.4" height="5.4"/><rect x="193.1" y="206.2" width="5.4" height="5.4"/><rect x="192.7" y="203.2" width="5.4" height="5.4"/><rect x="192.3" y="200.2" width="5.4" height="5.4"/><rect x="192.0" y="197.2" width="5.4" height="5.4"/><rect x="191.7" y="194.3" width="5.4" height="5.4"/><rect x="191.4" y="191.3" width="5.4" height="5.4"/><rect x="191.1" y="188.3" width="5.4" height="5.4"/><rect x="190.9" y="185.3" width="5.4" height="5.4"/><rect x="190.6" y="182.3" width="5.4" height="5.4"/><rect x="190.4" y="179.3" width="5.4" height="5.4"/><rect x="190.2" y="176.3" width="5.4" height="5.4"/><rect x="190.0" y="173.3" width="5.4" height="5.4"/><rect x="189.8" y="170.3" width="5.4" height="5.4"/><rect x="189.6" y="167.3" width="5.4" height="5.4"/><rect x="189.4" y="164.4" width="5.4" height="5.4"/><rect x="189.2" y="161.4" width="5.4" height="5.4"/><rect x="189.1" y="158.4" width="5.4" height="5.4"/><rect x="189.0" y="155.4" width="5.4" height="5.4"/><rect x="188.8" y="152.4" width="5.4" height="5.4"/><rect x="188.7" y="149.4" width="5.4" height="5.4"/><rect x="188.6" y="146.4" width="5.4" height="5.4"/><rect x="188.5" y="143.4" width="5.4" height="5.4"/><rect x="188.3" y="140.4" width="5.4" height="5.4"/><rect x="188.2" y="137.4" width="5.4" height="5.4"/><rect x="188.0" y="134.4" width="5.4" height="5.4"/><rect x="187.7" y="131.4" width="5.4" height="5.4"/><rect x="187.5" y="128.4" width="5.4" height="5.4"/><rect x="187.2" y="125.4" width="5.4" height="5.4"/><rect x="186.8" y="122.4" width="5.4" height="5.4"/><rect x="186.3" y="119.5" width="5.4" height="5.4"/><rect x="185.8" y="116.5" width="5.4" height="5.4"/><rect x="184.8" y="113.7" width="5.4" height="5.4"/><rect x="183.3" y="111.1" width="5.4" height="5.4"/><rect x="181.3" y="108.9" width="5.4" height="5.4"/><rect x="178.4" y="108.8" width="5.4" height="5.4"/><rect x="175.8" y="110.2" width="5.4" height="5.4"/><rect x="173.4" y="112.0" width="5.4" height="5.4"/><rect x="171.3" y="114.2" width="5.4" height="5.4"/><rect x="169.5" y="116.6" width="5.4" height="5.4"/><rect x="167.8" y="119.1" width="5.4" height="5.4"/><rect x="166.4" y="122.0" width="5.4" height="5.4"/><rect x="165.2" y="124.9" width="5.4" height="5.4"/><rect x="164.0" y="128.0" width="5.4" height="5.4"/><rect x="162.9" y="131.0" width="5.4" height="5.4"/><rect x="161.8" y="134.2" width="5.4" height="5.4"/><rect x="160.7" y="137.4" width="5.4" height="5.4"/><rect x="159.5" y="140.6" width="5.4" height="5.4"/><rect x="158.2" y="143.8" width="5.4" height="5.4"/><rect x="156.8" y="147.1" width="5.4" height="5.4"/><rect x="155.3" y="150.3" width="5.4" height="5.4"/><rect x="153.8" y="153.6" width="5.4" height="5.4"/><rect x="152.2" y="157.0" width="5.4" height="5.4"/><rect x="150.6" y="160.4" width="5.4" height="5.4"/><rect x="148.8" y="163.8" width="5.4" height="5.4"/><rect x="146.9" y="167.2" width="5.4" height="5.4"/><rect x="144.7" y="170.6" width="5.4" height="5.4"/><rect x="142.5" y="174.0" width="5.4" height="5.4"/><rect x="140.0" y="177.4" width="5.4" height="5.4"/><rect x="137.4" y="180.7" width="5.4" height="5.4"/><rect x="134.6" y="183.8" width="5.4" height="5.4"/><rect x="131.7" y="186.8" width="5.4" height="5.4"/><rect x="128.6" y="189.7" width="5.4" height="5.4"/><rect x="125.5" y="192.4" width="5.4" height="5.4"/><rect x="122.3" y="195.2" width="5.4" height="5.4"/><rect x="119.0" y="197.9" width="5.4" height="5.4"/><rect x="115.7" y="200.4" width="5.4" height="5.4"/><rect x="112.3" y="202.9" width="5.4" height="5.4"/><rect x="108.9" y="205.3" width="5.4" height="5.4"/><rect x="105.3" y="207.5" width="5.4" height="5.4"/><rect x="101.7" y="209.7" width="5.4" height="5.4"/><rect x="98.0" y="211.6" width="5.4" height="5.4"/><rect x="94.2" y="213.5" width="5.4" height="5.4"/><rect x="90.4" y="215.2" width="5.4" height="5.4"/><rect x="86.5" y="216.9" width="5.4" height="5.4"/><rect x="82.6" y="218.5" width="5.4" height="5.4"/><rect x="78.7" y="220.0" width="5.4" height="5.4"/><rect x="74.8" y="221.4" width="5.4" height="5.4"/><rect x="70.8" y="222.7" width="5.4" height="5.4"/><rect x="66.8" y="224.0" width="5.4" height="5.4"/></g>
<g fill="#fedde0" stroke="#f51a2e" stroke-width="0.55"><rect x="67.1" y="224.3" width="4.9" height="4.9"/><rect x="71.1" y="223.1" width="4.9" height="4.9"/><rect x="75.1" y="221.8" width="4.9" height="4.9"/><rect x="79.1" y="220.4" width="4.9" height="4.9"/><rect x="83.0" y="219.0" width="4.9" height="4.9"/><rect x="86.9" y="217.4" width="4.9" height="4.9"/><rect x="90.8" y="215.8" width="4.9" height="4.9"/><rect x="94.6" y="214.1" width="4.9" height="4.9"/><rect x="98.4" y="212.3" width="4.9" height="4.9"/><rect x="102.2" y="210.4" width="4.9" height="4.9"/><rect x="105.8" y="208.3" width="4.9" height="4.9"/><rect x="109.4" y="206.1" width="4.9" height="4.9"/><rect x="112.9" y="203.8" width="4.9" height="4.9"/><rect x="116.3" y="201.3" width="4.9" height="4.9"/><rect x="119.6" y="198.8" width="4.9" height="4.9"/><rect x="122.9" y="196.2" width="4.9" height="4.9"/><rect x="126.1" y="193.5" width="4.9" height="4.9"/><rect x="129.3" y="190.7" width="4.9" height="4.9"/><rect x="132.4" y="187.9" width="4.9" height="4.9"/><rect x="135.4" y="185.0" width="4.9" height="4.9"/><rect x="138.2" y="181.8" width="4.9" height="4.9"/><rect x="140.8" y="178.5" width="4.9" height="4.9"/><rect x="143.3" y="175.2" width="4.9" height="4.9"/><rect x="145.6" y="171.8" width="4.9" height="4.9"/><rect x="147.8" y="168.5" width="4.9" height="4.9"/><rect x="149.7" y="165.1" width="4.9" height="4.9"/><rect x="151.5" y="161.7" width="4.9" height="4.9"/><rect x="153.2" y="158.3" width="4.9" height="4.9"/><rect x="154.8" y="155.0" width="4.9" height="4.9"/><rect x="156.3" y="151.7" width="4.9" height="4.9"/><rect x="157.8" y="148.4" width="4.9" height="4.9"/><rect x="159.3" y="145.2" width="4.9" height="4.9"/><rect x="160.5" y="142.0" width="4.9" height="4.9"/><rect x="161.7" y="138.8" width="4.9" height="4.9"/><rect x="162.9" y="135.6" width="4.9" height="4.9"/><rect x="164.0" y="132.5" width="4.9" height="4.9"/><rect x="165.2" y="129.4" width="4.9" height="4.9"/><rect x="166.4" y="126.4" width="4.9" height="4.9"/><rect x="167.7" y="123.5" width="4.9" height="4.9"/><rect x="169.1" y="120.7" width="4.9" height="4.9"/><rect x="170.9" y="118.2" width="4.9" height="4.9"/><rect x="172.8" y="115.9" width="4.9" height="4.9"/><rect x="174.9" y="113.8" width="4.9" height="4.9"/><rect x="177.4" y="112.2" width="4.9" height="4.9"/><rect x="180.1" y="110.9" width="4.9" height="4.9"/><rect x="182.9" y="111.8" width="4.9" height="4.9"/><rect x="184.7" y="114.1" width="4.9" height="4.9"/><rect x="186.2" y="116.8" width="4.9" height="4.9"/><rect x="186.9" y="119.7" width="4.9" height="4.9"/><rect x="187.4" y="122.6" width="4.9" height="4.9"/><rect x="187.8" y="125.6" width="4.9" height="4.9"/><rect x="188.2" y="128.6" width="4.9" height="4.9"/><rect x="188.5" y="131.6" width="4.9" height="4.9"/><rect x="188.7" y="134.6" width="4.9" height="4.9"/><rect x="188.9" y="137.6" width="4.9" height="4.9"/><rect x="189.1" y="140.5" width="4.9" height="4.9"/><rect x="189.2" y="143.5" width="4.9" height="4.9"/><rect x="189.3" y="146.5" width="4.9" height="4.9"/><rect x="189.4" y="149.5" width="4.9" height="4.9"/><rect x="189.6" y="152.5" width="4.9" height="4.9"/><rect x="189.7" y="155.5" width="4.9" height="4.9"/><rect x="189.8" y="158.5" width="4.9" height="4.9"/><rect x="189.9" y="161.5" width="4.9" height="4.9"/><rect x="190.0" y="164.5" width="4.9" height="4.9"/><rect x="190.2" y="167.5" width="4.9" height="4.9"/><rect x="190.4" y="170.5" width="4.9" height="4.9"/><rect x="190.6" y="173.5" width="4.9" height="4.9"/><rect x="190.7" y="176.5" width="4.9" height="4.9"/><rect x="190.9" y="179.5" width="4.9" height="4.9"/><rect x="191.2" y="182.5" width="4.9" height="4.9"/><rect x="191.4" y="185.5" width="4.9" height="4.9"/><rect x="191.6" y="188.5" width="4.9" height="4.9"/><rect x="191.9" y="191.5" width="4.9" height="4.9"/><rect x="192.2" y="194.5" width="4.9" height="4.9"/><rect x="192.4" y="197.4" width="4.9" height="4.9"/><rect x="192.8" y="200.4" width="4.9" height="4.9"/><rect x="193.1" y="203.4" width="4.9" height="4.9"/><rect x="193.5" y="206.4" width="4.9" height="4.9"/><rect x="193.8" y="209.4" width="4.9" height="4.9"/><rect x="194.2" y="212.3" width="4.9" height="4.9"/><rect x="194.8" y="215.0" width="4.9" height="4.9"/><rect x="195.3" y="212.0" width="4.9" height="4.9"/><rect x="195.7" y="209.0" width="4.9" height="4.9"/><rect x="196.2" y="206.1" width="4.9" height="4.9"/><rect x="196.7" y="203.1" width="4.9" height="4.9"/><rect x="197.1" y="200.1" width="4.9" height="4.9"/><rect x="197.5" y="197.2" width="4.9" height="4.9"/><rect x="197.8" y="194.2" width="4.9" height="4.9"/><rect x="198.2" y="191.2" width="4.9" height="4.9"/><rect x="198.5" y="188.2" width="4.9" height="4.9"/><rect x="198.8" y="185.2" width="4.9" height="4.9"/><rect x="199.1" y="182.2" width="4.9" height="4.9"/><rect x="199.3" y="179.3" width="4.9" height="4.9"/><rect x="199.6" y="176.3" width="4.9" height="4.9"/><rect x="199.8" y="173.3" width="4.9" height="4.9"/><rect x="200.1" y="170.3" width="4.9" height="4.9"/><rect x="200.3" y="167.3" width="4.9" height="4.9"/><rect x="200.5" y="164.3" width="4.9" height="4.9"/><rect x="200.7" y="161.3" width="4.9" height="4.9"/><rect x="200.8" y="158.3" width="4.9" height="4.9"/><rect x="200.9" y="155.3" width="4.9" height="4.9"/><rect x="201.1" y="152.3" width="4.9" height="4.9"/><rect x="201.2" y="149.3" width="4.9" height="4.9"/><rect x="201.4" y="146.3" width="4.9" height="4.9"/><rect x="201.5" y="143.3" width="4.9" height="4.9"/><rect x="201.7" y="140.3" width="4.9" height="4.9"/><rect x="201.9" y="137.3" width="4.9" height="4.9"/><rect x="202.2" y="134.4" width="4.9" height="4.9"/><rect x="202.5" y="131.4" width="4.9" height="4.9"/><rect x="202.8" y="128.4" width="4.9" height="4.9"/><rect x="203.3" y="125.4" width="4.9" height="4.9"/><rect x="203.8" y="122.5" width="4.9" height="4.9"/><rect x="204.4" y="119.5" width="4.9" height="4.9"/><rect x="205.4" y="116.7" width="4.9" height="4.9"/><rect x="206.8" y="114.1" width="4.9" height="4.9"/><rect x="208.7" y="111.7" width="4.9" height="4.9"/><rect x="211.4" y="111.0" width="4.9" height="4.9"/><rect x="214.2" y="112.2" width="4.9" height="4.9"/><rect x="216.6" y="113.9" width="4.9" height="4.9"/><rect x="218.8" y="116.0" width="4.9" height="4.9"/><rect x="220.7" y="118.3" width="4.9" height="4.9"/><rect x="222.4" y="120.8" width="4.9" height="4.9"/><rect x="223.9" y="123.6" width="4.9" height="4.9"/><rect x="225.2" y="126.5" width="4.9" height="4.9"/><rect x="226.4" y="129.5" width="4.9" height="4.9"/><rect x="227.5" y="132.6" width="4.9" height="4.9"/><rect x="228.6" y="135.7" width="4.9" height="4.9"/><rect x="229.8" y="138.9" width="4.9" height="4.9"/><rect x="231.0" y="142.1" width="4.9" height="4.9"/><rect x="232.3" y="145.3" width="4.9" height="4.9"/><rect x="233.7" y="148.5" width="4.9" height="4.9"/><rect x="235.2" y="151.8" width="4.9" height="4.9"/><rect x="236.8" y="155.1" width="4.9" height="4.9"/><rect x="238.4" y="158.4" width="4.9" height="4.9"/><rect x="240.0" y="161.8" width="4.9" height="4.9"/><rect x="241.8" y="165.2" width="4.9" height="4.9"/><rect x="243.8" y="168.6" width="4.9" height="4.9"/><rect x="246.0" y="171.9" width="4.9" height="4.9"/><rect x="248.3" y="175.3" width="4.9" height="4.9"/><rect x="250.8" y="178.6" width="4.9" height="4.9"/><rect x="253.4" y="181.9" width="4.9" height="4.9"/><rect x="256.2" y="185.0" width="4.9" height="4.9"/><rect x="259.2" y="188.0" width="4.9" height="4.9"/><rect x="262.3" y="190.8" width="4.9" height="4.9"/><rect x="265.5" y="193.6" width="4.9" height="4.9"/><rect x="268.7" y="196.3" width="4.9" height="4.9"/><rect x="272.0" y="198.9" width="4.9" height="4.9"/><rect x="275.3" y="201.4" width="4.9" height="4.9"/><rect x="278.8" y="203.8" width="4.9" height="4.9"/><rect x="282.2" y="206.2" width="4.9" height="4.9"/><rect x="285.8" y="208.4" width="4.9" height="4.9"/><rect x="289.5" y="210.5" width="4.9" height="4.9"/><rect x="293.2" y="212.4" width="4.9" height="4.9"/><rect x="297.0" y="214.2" width="4.9" height="4.9"/><rect x="300.8" y="215.9" width="4.9" height="4.9"/><rect x="304.7" y="217.5" width="4.9" height="4.9"/><rect x="308.6" y="219.0" width="4.9" height="4.9"/><rect x="312.6" y="220.5" width="4.9" height="4.9"/><rect x="316.5" y="221.9" width="4.9" height="4.9"/><rect x="320.5" y="223.1" width="4.9" height="4.9"/><rect x="324.5" y="224.4" width="4.9" height="4.9"/></g>
</svg>
<rect x="58.3" y="6.6" width="313.3" height="231.9" fill="none" stroke="#222" stroke-width="1.15"/>
<line x1="53.3" y1="227.2" x2="58.3" y2="227.2" stroke="#222" stroke-width="1.1"/>
<text x="50.2" y="231.4" text-anchor="end" class="tk">0</text>
<line x1="53.3" y1="189.9" x2="58.3" y2="189.9" stroke="#222" stroke-width="1.1"/>
<text x="50.2" y="194.1" text-anchor="end" class="tk">50</text>
<line x1="53.3" y1="152.6" x2="58.3" y2="152.6" stroke="#222" stroke-width="1.1"/>
<text x="50.2" y="156.8" text-anchor="end" class="tk">100</text>
<line x1="53.3" y1="115.4" x2="58.3" y2="115.4" stroke="#222" stroke-width="1.1"/>
<text x="50.2" y="119.6" text-anchor="end" class="tk">150</text>
<line x1="53.3" y1="78.1" x2="58.3" y2="78.1" stroke="#222" stroke-width="1.1"/>
<text x="50.2" y="82.3" text-anchor="end" class="tk">200</text>
<line x1="53.3" y1="40.8" x2="58.3" y2="40.8" stroke="#222" stroke-width="1.1"/>
<text x="50.2" y="45" text-anchor="end" class="tk">250</text>
<line x1="55.3" y1="208.6" x2="58.3" y2="208.6" stroke="#222" stroke-width="1.1"/>
<line x1="55.3" y1="171.3" x2="58.3" y2="171.3" stroke="#222" stroke-width="1.1"/>
<line x1="55.3" y1="134" x2="58.3" y2="134" stroke="#222" stroke-width="1.1"/>
<line x1="55.3" y1="96.7" x2="58.3" y2="96.7" stroke="#222" stroke-width="1.1"/>
<line x1="55.3" y1="59.4" x2="58.3" y2="59.4" stroke="#222" stroke-width="1.1"/>
<line x1="55.3" y1="22.2" x2="58.3" y2="22.2" stroke="#222" stroke-width="1.1"/>
<line x1="76" y1="238.5" x2="76" y2="243.5" stroke="#222" stroke-width="1.1"/>
<text x="76" y="257.8" text-anchor="middle" class="tk">-100</text>
<line x1="136.3" y1="238.5" x2="136.3" y2="243.5" stroke="#222" stroke-width="1.1"/>
<text x="136.3" y="257.8" text-anchor="middle" class="tk">-50</text>
<line x1="196.6" y1="238.5" x2="196.6" y2="243.5" stroke="#222" stroke-width="1.1"/>
<text x="196.6" y="257.8" text-anchor="middle" class="tk">0</text>
<line x1="256.9" y1="238.5" x2="256.9" y2="243.5" stroke="#222" stroke-width="1.1"/>
<text x="256.9" y="257.8" text-anchor="middle" class="tk">50</text>
<line x1="317.2" y1="238.5" x2="317.2" y2="243.5" stroke="#222" stroke-width="1.1"/>
<text x="317.2" y="257.8" text-anchor="middle" class="tk">100</text>
<line x1="106.1" y1="238.5" x2="106.1" y2="241.5" stroke="#222" stroke-width="1.1"/>
<line x1="166.4" y1="238.5" x2="166.4" y2="241.5" stroke="#222" stroke-width="1.1"/>
<line x1="226.8" y1="238.5" x2="226.8" y2="241.5" stroke="#222" stroke-width="1.1"/>
<line x1="287.1" y1="238.5" x2="287.1" y2="241.5" stroke="#222" stroke-width="1.1"/>
<line x1="347.4" y1="238.5" x2="347.4" y2="241.5" stroke="#222" stroke-width="1.1"/>
<text x="245" y="22.9" text-anchor="end" class="lg">1 MHz</text>
<line x1="248" y1="17.5" x2="281" y2="17.5" stroke="#c9c99a" stroke-width="1"/>
<rect x="262.6" y="14.9" width="5.2" height="5.2" fill="#808000"/>
<text x="284.8" y="22.9" class="lg">down</text>
<line x1="320.5" y1="17.5" x2="353" y2="17.5" stroke="#c9c99a" stroke-width="1"/>
<rect x="334.5" y="15.2" width="4.6" height="4.6" fill="#fff" stroke="#808000" stroke-width="0.9"/>
<text x="356.6" y="22.9" class="lg">up</text>
<text x="245" y="41" text-anchor="end" class="lg">50</text>
<line x1="248" y1="35.6" x2="281" y2="35.6" stroke="#a8d4a8" stroke-width="1"/>
<rect x="262.6" y="33.0" width="5.2" height="5.2" fill="#008000"/>
<text x="284.8" y="41" class="lg">down</text>
<line x1="320.5" y1="35.6" x2="353" y2="35.6" stroke="#a8d4a8" stroke-width="1"/>
<rect x="334.5" y="33.3" width="4.6" height="4.6" fill="#fff" stroke="#008000" stroke-width="0.9"/>
<text x="356.6" y="41" class="lg">up</text>
<text x="245" y="59.1" text-anchor="end" class="lg">100</text>
<line x1="248" y1="53.7" x2="281" y2="53.7" stroke="#b878b8" stroke-width="1"/>
<rect x="262.6" y="51.1" width="5.2" height="5.2" fill="#800080"/>
<text x="284.8" y="59.1" class="lg">down</text>
<line x1="320.5" y1="53.7" x2="353" y2="53.7" stroke="#b878b8" stroke-width="1"/>
<rect x="334.5" y="51.4" width="4.6" height="4.6" fill="#fff" stroke="#800080" stroke-width="0.9"/>
<text x="356.6" y="59.1" class="lg">up</text>
<text x="245" y="77.2" text-anchor="end" class="lg">150</text>
<line x1="248" y1="71.8" x2="281" y2="71.8" stroke="#f8c8c8" stroke-width="1"/>
<rect x="262.6" y="69.2" width="5.2" height="5.2" fill="#f51a2e"/>
<text x="284.8" y="77.2" class="lg">down</text>
<line x1="320.5" y1="71.8" x2="353" y2="71.8" stroke="#f8c8c8" stroke-width="1"/>
<rect x="334.5" y="69.5" width="4.6" height="4.6" fill="#fff" stroke="#f51a2e" stroke-width="0.9"/>
<text x="356.6" y="77.2" class="lg">up</text>
<text x="245" y="95.3" text-anchor="end" class="lg">200</text>
<line x1="248" y1="89.9" x2="281" y2="89.9" stroke="#f0e4e4" stroke-width="1"/>
<rect x="262.6" y="87.3" width="5.2" height="5.2" fill="#8a0010"/>
<text x="284.8" y="95.3" class="lg">down</text>
<line x1="320.5" y1="89.9" x2="353" y2="89.9" stroke="#f0e4e4" stroke-width="1"/>
<rect x="334.5" y="87.6" width="4.6" height="4.6" fill="#fff" stroke="#8a0010" stroke-width="0.9"/>
<text x="356.6" y="95.3" class="lg">up</text>
<text x="70.6" y="29.6" class="pl">(a)</text>
<text x="203.6" y="276" text-anchor="middle" class="ti" style="letter-spacing:0.5px">H (Oe)</text>
<text transform="translate(20.2,119) rotate(-90)" text-anchor="middle" class="ti">&#916;Z/Z (%)</text>
<polyline fill="none" stroke="#555555" stroke-width="0.8" points="452.8,207.3 467.8,128.7 482.7,110.9 497.7,106.0 512.6,106.7 527.6,111.7 542.5,118.3 557.5,126.4 572.4,134.3 587.4,142.4 602.3,151.0 617.3,158.9 632.2,166.5 647.1,173.9 662.1,181.0 677.0,188.0 692.0,194.6 706.9,200.7 721.9,206.6 736.8,211.8"/>
<rect x="450.4" y="204.9" width="4.8" height="4.8" fill="#000000"/>
<rect x="465.4" y="126.3" width="4.8" height="4.8" fill="#000000"/>
<rect x="480.3" y="108.5" width="4.8" height="4.8" fill="#000000"/>
<rect x="495.3" y="103.6" width="4.8" height="4.8" fill="#000000"/>
<rect x="510.2" y="104.3" width="4.8" height="4.8" fill="#000000"/>
<rect x="525.2" y="109.3" width="4.8" height="4.8" fill="#000000"/>
<rect x="540.1" y="115.9" width="4.8" height="4.8" fill="#000000"/>
<rect x="555.1" y="124.0" width="4.8" height="4.8" fill="#000000"/>
<rect x="570.0" y="131.9" width="4.8" height="4.8" fill="#000000"/>
<rect x="585.0" y="140.0" width="4.8" height="4.8" fill="#000000"/>
<rect x="599.9" y="148.6" width="4.8" height="4.8" fill="#000000"/>
<rect x="614.9" y="156.5" width="4.8" height="4.8" fill="#000000"/>
<rect x="629.8" y="164.1" width="4.8" height="4.8" fill="#000000"/>
<rect x="644.7" y="171.5" width="4.8" height="4.8" fill="#000000"/>
<rect x="659.7" y="178.6" width="4.8" height="4.8" fill="#000000"/>
<rect x="674.6" y="185.6" width="4.8" height="4.8" fill="#000000"/>
<rect x="689.6" y="192.2" width="4.8" height="4.8" fill="#000000"/>
<rect x="704.5" y="198.3" width="4.8" height="4.8" fill="#000000"/>
<rect x="719.5" y="204.2" width="4.8" height="4.8" fill="#000000"/>
<rect x="734.4" y="209.4" width="4.8" height="4.8" fill="#000000"/>
<polyline fill="none" stroke="#ff6060" stroke-width="0.8" points="452.8,204.5 467.8,85.3 482.7,48.6 497.7,32.1 512.6,26.1 527.6,26.6 542.5,31.7 557.5,39.6 572.4,47.4 587.4,58.7 602.3,70.3 617.3,80.2 632.2,91.9 647.1,104.2 662.1,115.9 677.0,126.3 692.0,136.9 706.9,147.9 721.9,158.2 736.8,167.6"/>
<circle cx="452.8" cy="204.5" r="2.9" fill="#ff0000"/>
<circle cx="467.8" cy="85.3" r="2.9" fill="#ff0000"/>
<circle cx="482.7" cy="48.6" r="2.9" fill="#ff0000"/>
<circle cx="497.7" cy="32.1" r="2.9" fill="#ff0000"/>
<circle cx="512.6" cy="26.1" r="2.9" fill="#ff0000"/>
<circle cx="527.6" cy="26.6" r="2.9" fill="#ff0000"/>
<circle cx="542.5" cy="31.7" r="2.9" fill="#ff0000"/>
<circle cx="557.5" cy="39.6" r="2.9" fill="#ff0000"/>
<circle cx="572.4" cy="47.4" r="2.9" fill="#ff0000"/>
<circle cx="587.4" cy="58.7" r="2.9" fill="#ff0000"/>
<circle cx="602.3" cy="70.3" r="2.9" fill="#ff0000"/>
<circle cx="617.3" cy="80.2" r="2.9" fill="#ff0000"/>
<circle cx="632.2" cy="91.9" r="2.9" fill="#ff0000"/>
<circle cx="647.1" cy="104.2" r="2.9" fill="#ff0000"/>
<circle cx="662.1" cy="115.9" r="2.9" fill="#ff0000"/>
<circle cx="677.0" cy="126.3" r="2.9" fill="#ff0000"/>
<circle cx="692.0" cy="136.9" r="2.9" fill="#ff0000"/>
<circle cx="706.9" cy="147.9" r="2.9" fill="#ff0000"/>
<circle cx="721.9" cy="158.2" r="2.9" fill="#ff0000"/>
<circle cx="736.8" cy="167.6" r="2.9" fill="#ff0000"/>
<polyline fill="none" stroke="#6060ff" stroke-width="0.8" points="452.8,219.1 467.8,134.3 482.7,96.9 497.7,75.2 512.6,61.9 527.6,54.8 542.5,53.6 557.5,54.8 572.4,58.7 587.4,64.1 602.3,70.3 617.3,77.7 632.2,85.8 647.1,94.4 662.1,103.5 677.0,112.3 692.0,122.1 706.9,131.9 721.9,141.8 736.8,151.6"/>
<polygon points="452.8,215.3 456.4,221.7 449.3,221.7" fill="#0000ff"/>
<polygon points="467.8,130.5 471.3,136.9 464.2,136.9" fill="#0000ff"/>
<polygon points="482.7,93.1 486.3,99.5 479.2,99.5" fill="#0000ff"/>
<polygon points="497.7,71.5 501.2,77.9 494.1,77.9" fill="#0000ff"/>
<polygon points="512.6,58.1 516.2,64.5 509.1,64.5" fill="#0000ff"/>
<polygon points="527.6,51.0 531.1,57.4 524.0,57.4" fill="#0000ff"/>
<polygon points="542.5,49.9 546.1,56.2 539.0,56.2" fill="#0000ff"/>
<polygon points="557.5,51.0 561.0,57.4 553.9,57.4" fill="#0000ff"/>
<polygon points="572.4,55.0 576.0,61.3 568.9,61.3" fill="#0000ff"/>
<polygon points="587.4,60.3 590.9,66.7 583.8,66.7" fill="#0000ff"/>
<polygon points="602.3,66.5 605.9,72.9 598.7,72.9" fill="#0000ff"/>
<polygon points="617.3,74.0 620.8,80.3 613.7,80.3" fill="#0000ff"/>
<polygon points="632.2,82.1 635.8,88.4 628.6,88.4" fill="#0000ff"/>
<polygon points="647.1,90.6 650.7,97.0 643.6,97.0" fill="#0000ff"/>
<polygon points="662.1,99.7 665.7,106.1 658.5,106.1" fill="#0000ff"/>
<polygon points="677.0,108.6 680.6,114.9 673.5,114.9" fill="#0000ff"/>
<polygon points="692.0,118.3 695.5,124.7 688.4,124.7" fill="#0000ff"/>
<polygon points="706.9,128.1 710.5,134.5 703.4,134.5" fill="#0000ff"/>
<polygon points="721.9,138.0 725.4,144.4 718.3,144.4" fill="#0000ff"/>
<polygon points="736.8,147.9 740.4,154.2 733.3,154.2" fill="#0000ff"/>
<polyline fill="none" stroke="#2a9a9a" stroke-width="0.8" points="452.8,227.0 467.8,195.8 482.7,175.1 497.7,160.4 512.6,149.2 527.6,141.4 542.5,136.7 557.5,133.1 572.4,131.9 587.4,131.9 602.3,131.9 617.3,133.2 632.2,135.5 647.1,137.6 662.1,140.2 677.0,143.4 692.0,146.7 706.9,151.1 721.9,156.0 736.8,160.9"/>
<polygon points="452.8,230.8 456.4,224.4 449.3,224.4" fill="#008080"/>
<polygon points="467.8,199.6 471.3,193.2 464.2,193.2" fill="#008080"/>
<polygon points="482.7,178.8 486.3,172.5 479.2,172.5" fill="#008080"/>
<polygon points="497.7,164.1 501.2,157.8 494.1,157.8" fill="#008080"/>
<polygon points="512.6,153.0 516.2,146.6 509.1,146.6" fill="#008080"/>
<polygon points="527.6,145.1 531.1,138.8 524.0,138.8" fill="#008080"/>
<polygon points="542.5,140.4 546.1,134.1 539.0,134.1" fill="#008080"/>
<polygon points="557.5,136.9 561.0,130.5 553.9,130.5" fill="#008080"/>
<polygon points="572.4,135.6 576.0,129.3 568.9,129.3" fill="#008080"/>
<polygon points="587.4,135.6 590.9,129.3 583.8,129.3" fill="#008080"/>
<polygon points="602.3,135.6 605.9,129.3 598.7,129.3" fill="#008080"/>
<polygon points="617.3,137.0 620.8,130.6 613.7,130.6" fill="#008080"/>
<polygon points="632.2,139.3 635.8,132.9 628.6,132.9" fill="#008080"/>
<polygon points="647.1,141.3 650.7,135.0 643.6,135.0" fill="#008080"/>
<polygon points="662.1,144.0 665.7,137.6 658.5,137.6" fill="#008080"/>
<polygon points="677.0,147.1 680.6,140.7 673.5,140.7" fill="#008080"/>
<polygon points="692.0,150.4 695.5,144.0 688.4,144.0" fill="#008080"/>
<polygon points="706.9,154.9 710.5,148.5 703.4,148.5" fill="#008080"/>
<polygon points="721.9,159.7 725.4,153.4 718.3,153.4" fill="#008080"/>
<polygon points="736.8,164.6 740.4,158.2 733.3,158.2" fill="#008080"/>
<polyline fill="none" stroke="#ff90ff" stroke-width="0.8" points="452.8,230.1 467.8,228.4 482.7,226.9 497.7,225.0 512.6,223.6 527.6,222.0 542.5,220.9 557.5,219.9 572.4,218.9 587.4,218.5 602.3,218.0 617.3,217.7 632.2,217.4 647.1,217.2 662.1,217.0 677.0,216.9 692.0,216.8 706.9,216.7 721.9,216.7 736.8,216.7"/>
<polygon points="449.1,230.1 455.5,226.5 455.5,233.6" fill="#ff00ff"/>
<polygon points="464.0,228.4 470.4,224.9 470.4,232.0" fill="#ff00ff"/>
<polygon points="479.0,226.9 485.4,223.3 485.4,230.4" fill="#ff00ff"/>
<polygon points="493.9,225.0 500.3,221.5 500.3,228.6" fill="#ff00ff"/>
<polygon points="508.9,223.6 515.3,220.1 515.3,227.2" fill="#ff00ff"/>
<polygon points="523.8,222.0 530.2,218.4 530.2,225.5" fill="#ff00ff"/>
<polygon points="538.8,220.9 545.1,217.3 545.1,224.5" fill="#ff00ff"/>
<polygon points="553.7,219.9 560.1,216.4 560.1,223.5" fill="#ff00ff"/>
<polygon points="568.7,218.9 575.0,215.4 575.0,222.5" fill="#ff00ff"/>
<polygon points="583.6,218.5 590.0,215.0 590.0,222.1" fill="#ff00ff"/>
<polygon points="598.6,218.0 604.9,214.5 604.9,221.6" fill="#ff00ff"/>
<polygon points="613.5,217.7 619.9,214.1 619.9,221.2" fill="#ff00ff"/>
<polygon points="628.4,217.4 634.8,213.9 634.8,221.0" fill="#ff00ff"/>
<polygon points="643.4,217.2 649.8,213.6 649.8,220.8" fill="#ff00ff"/>
<polygon points="658.3,217.0 664.7,213.5 664.7,220.6" fill="#ff00ff"/>
<polygon points="673.3,216.9 679.7,213.3 679.7,220.4" fill="#ff00ff"/>
<polygon points="688.2,216.8 694.6,213.2 694.6,220.3" fill="#ff00ff"/>
<polygon points="703.2,216.7 709.6,213.1 709.6,220.3" fill="#ff00ff"/>
<polygon points="718.1,216.7 724.5,213.1 724.5,220.3" fill="#ff00ff"/>
<polygon points="733.1,216.7 739.5,213.1 739.5,220.3" fill="#ff00ff"/>
<polyline fill="none" stroke="#8a8a10" stroke-width="1.3" points="452.8,230.7 467.8,230.7 482.7,230.7 497.7,230.7 512.6,230.7 527.6,230.7 542.5,230.7 557.5,230.7 572.4,230.7 587.4,230.7 602.3,230.7 617.3,230.7 632.2,230.7 647.1,230.7 662.1,230.7 677.0,230.7 692.0,230.7 706.9,230.7 721.9,230.7 736.8,230.7"/>
<polygon points="456.6,230.7 450.2,227.1 450.2,234.2" fill="#808000"/>
<polygon points="471.5,230.7 465.2,227.2 465.2,234.3" fill="#808000"/>
<polygon points="486.5,230.7 480.1,227.2 480.1,234.3" fill="#808000"/>
<polygon points="501.4,230.7 495.1,227.2 495.1,234.3" fill="#808000"/>
<polygon points="516.4,230.7 510.0,227.2 510.0,234.3" fill="#808000"/>
<polygon points="531.3,230.7 524.9,227.2 524.9,234.3" fill="#808000"/>
<polygon points="546.3,230.7 539.9,227.2 539.9,234.3" fill="#808000"/>
<polygon points="561.2,230.7 554.8,227.2 554.8,234.3" fill="#808000"/>
<polygon points="576.2,230.7 569.8,227.2 569.8,234.3" fill="#808000"/>
<polygon points="591.1,230.7 584.7,227.2 584.7,234.3" fill="#808000"/>
<polygon points="606.1,230.7 599.7,227.2 599.7,234.3" fill="#808000"/>
<polygon points="621.0,230.7 614.6,227.2 614.6,234.3" fill="#808000"/>
<polygon points="635.9,230.7 629.6,227.2 629.6,234.3" fill="#808000"/>
<polygon points="650.9,230.7 644.5,227.2 644.5,234.3" fill="#808000"/>
<polygon points="665.8,230.7 659.5,227.2 659.5,234.3" fill="#808000"/>
<polygon points="680.8,230.7 674.4,227.2 674.4,234.3" fill="#808000"/>
<polygon points="695.7,230.7 689.4,227.2 689.4,234.3" fill="#808000"/>
<polygon points="710.7,230.7 704.3,227.2 704.3,234.3" fill="#808000"/>
<polygon points="725.6,230.7 719.3,227.2 719.3,234.3" fill="#808000"/>
<polygon points="740.6,230.7 734.2,227.2 734.2,234.3" fill="#808000"/>
<rect x="437.6" y="7.6" width="313.0" height="231.9" fill="none" stroke="#222" stroke-width="1.15"/>
<line x1="432.6" y1="230.9" x2="437.6" y2="230.9" stroke="#222" stroke-width="1.1"/>
<text x="430.2" y="235.1" text-anchor="end" class="tk">0</text>
<line x1="432.6" y1="197.9" x2="437.6" y2="197.9" stroke="#222" stroke-width="1.1"/>
<text x="430.2" y="202.1" text-anchor="end" class="tk">40</text>
<line x1="432.6" y1="164.8" x2="437.6" y2="164.8" stroke="#222" stroke-width="1.1"/>
<text x="430.2" y="169" text-anchor="end" class="tk">80</text>
<line x1="432.6" y1="131.8" x2="437.6" y2="131.8" stroke="#222" stroke-width="1.1"/>
<text x="430.2" y="136" text-anchor="end" class="tk">120</text>
<line x1="432.6" y1="98.8" x2="437.6" y2="98.8" stroke="#222" stroke-width="1.1"/>
<text x="430.2" y="103" text-anchor="end" class="tk">160</text>
<line x1="432.6" y1="65.7" x2="437.6" y2="65.7" stroke="#222" stroke-width="1.1"/>
<text x="430.2" y="69.9" text-anchor="end" class="tk">200</text>
<line x1="432.6" y1="32.7" x2="437.6" y2="32.7" stroke="#222" stroke-width="1.1"/>
<text x="430.2" y="36.9" text-anchor="end" class="tk">240</text>
<line x1="434.6" y1="214.4" x2="437.6" y2="214.4" stroke="#222" stroke-width="1.1"/>
<line x1="434.6" y1="181.4" x2="437.6" y2="181.4" stroke="#222" stroke-width="1.1"/>
<line x1="434.6" y1="148.3" x2="437.6" y2="148.3" stroke="#222" stroke-width="1.1"/>
<line x1="434.6" y1="115.3" x2="437.6" y2="115.3" stroke="#222" stroke-width="1.1"/>
<line x1="434.6" y1="82.3" x2="437.6" y2="82.3" stroke="#222" stroke-width="1.1"/>
<line x1="434.6" y1="49.2" x2="437.6" y2="49.2" stroke="#222" stroke-width="1.1"/>
<line x1="434.6" y1="16.2" x2="437.6" y2="16.2" stroke="#222" stroke-width="1.1"/>
<line x1="451.7" y1="239.5" x2="451.7" y2="244.5" stroke="#222" stroke-width="1.1"/>
<text x="451.7" y="258.5" text-anchor="middle" class="tk">0</text>
<line x1="522.9" y1="239.5" x2="522.9" y2="244.5" stroke="#222" stroke-width="1.1"/>
<text x="522.9" y="258.5" text-anchor="middle" class="tk">50</text>
<line x1="594" y1="239.5" x2="594" y2="244.5" stroke="#222" stroke-width="1.1"/>
<text x="594" y="258.5" text-anchor="middle" class="tk">100</text>
<line x1="665.2" y1="239.5" x2="665.2" y2="244.5" stroke="#222" stroke-width="1.1"/>
<text x="665.2" y="258.5" text-anchor="middle" class="tk">150</text>
<line x1="736.4" y1="239.5" x2="736.4" y2="244.5" stroke="#222" stroke-width="1.1"/>
<text x="736.4" y="258.5" text-anchor="middle" class="tk">200</text>
<line x1="487.3" y1="239.5" x2="487.3" y2="242.5" stroke="#222" stroke-width="1.1"/>
<line x1="558.5" y1="239.5" x2="558.5" y2="242.5" stroke="#222" stroke-width="1.1"/>
<line x1="629.6" y1="239.5" x2="629.6" y2="242.5" stroke="#222" stroke-width="1.1"/>
<line x1="700.8" y1="239.5" x2="700.8" y2="242.5" stroke="#222" stroke-width="1.1"/>
<line x1="686.5" y1="20.6" x2="712.5" y2="20.6" stroke="#c8c8c8" stroke-width="0.9"/>
<rect x="697.4" y="18.2" width="4.8" height="4.8" fill="#000000"/>
<text x="716.5" y="24.8" class="lg2">1 Oe</text>
<line x1="686.5" y1="35.9" x2="712.5" y2="35.9" stroke="#f08080" stroke-width="0.9"/>
<circle cx="699.8" cy="35.9" r="2.9" fill="#ff0000"/>
<text x="716.5" y="40.1" class="lg2">7</text>
<line x1="686.5" y1="51.2" x2="712.5" y2="51.2" stroke="#9c9cff" stroke-width="0.9"/>
<polygon points="699.8,47.5 703.4,53.8 696.2,53.8" fill="#0000ff"/>
<text x="716.5" y="55.4" class="lg2">15</text>
<line x1="686.5" y1="66.5" x2="712.5" y2="66.5" stroke="#2a9a9a" stroke-width="0.9"/>
<polygon points="699.8,70.2 703.4,63.9 696.2,63.9" fill="#008080"/>
<text x="716.5" y="70.7" class="lg2">30</text>
<line x1="686.5" y1="81.8" x2="712.5" y2="81.8" stroke="#f0a0f0" stroke-width="0.9"/>
<polygon points="696.0,81.8 702.4,78.2 702.4,85.4" fill="#ff00ff"/>
<text x="716.5" y="86" class="lg2">80</text>
<polygon points="703.5,97.1 697.2,93.5 697.2,100.7" fill="#808000"/>
<text x="716.5" y="101.3" class="lg2">110</text>
<text x="452.3" y="30" class="pl">(b)</text>
<text x="592.6" y="277" text-anchor="middle" class="ti" style="letter-spacing:0.45px">Frequency (MHz)</text>
<text transform="translate(401.2,116) rotate(-90)" text-anchor="middle" class="ti">&#916;Z/Z (%)</text>
</svg></body></html>
